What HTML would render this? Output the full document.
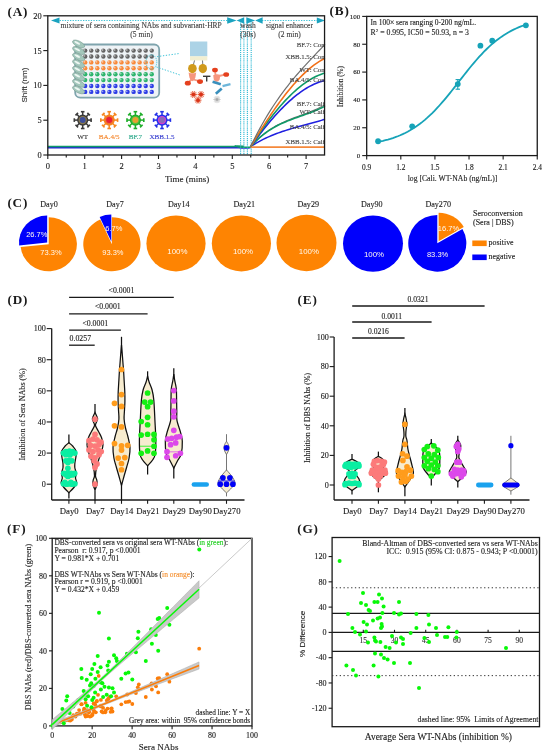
<!DOCTYPE html>
<html><head><meta charset="utf-8"><style>
html,body{margin:0;padding:0;background:#fff;}
body{width:550px;height:755px;overflow:hidden;}
svg{display:block;filter:blur(0.3px);}
</style></head><body>
<svg width="550" height="755" viewBox="0 0 550 755">
<rect width="550" height="755" fill="#fff"/>
<text x="7.6" y="16" font-size="13.2" font-family='"Liberation Serif", serif' fill="#1a1a1a" font-weight="bold" letter-spacing="0.8">(A)</text>
<rect x="75.2" y="44.5" width="84" height="53.2" fill="#eef3f6" stroke="#7fa4ad" stroke-width="1.8" rx="5"/>
<circle cx="85.2" cy="50.6" r="2.2" fill="#646464"/>
<circle cx="84.4" cy="50" r="0.9" fill="#ffffff" opacity="0.5"/>
<circle cx="91.25" cy="50.6" r="2.2" fill="#646464"/>
<circle cx="90.45" cy="50" r="0.9" fill="#ffffff" opacity="0.5"/>
<circle cx="97.3" cy="50.6" r="2.2" fill="#646464"/>
<circle cx="96.5" cy="50" r="0.9" fill="#ffffff" opacity="0.5"/>
<circle cx="103.35" cy="50.6" r="2.2" fill="#646464"/>
<circle cx="102.55" cy="50" r="0.9" fill="#ffffff" opacity="0.5"/>
<circle cx="109.4" cy="50.6" r="2.2" fill="#646464"/>
<circle cx="108.6" cy="50" r="0.9" fill="#ffffff" opacity="0.5"/>
<circle cx="115.45" cy="50.6" r="2.2" fill="#646464"/>
<circle cx="114.65" cy="50" r="0.9" fill="#ffffff" opacity="0.5"/>
<circle cx="121.5" cy="50.6" r="2.2" fill="#646464"/>
<circle cx="120.7" cy="50" r="0.9" fill="#ffffff" opacity="0.5"/>
<circle cx="127.55" cy="50.6" r="2.2" fill="#646464"/>
<circle cx="126.75" cy="50" r="0.9" fill="#ffffff" opacity="0.5"/>
<circle cx="133.6" cy="50.6" r="2.2" fill="#646464"/>
<circle cx="132.8" cy="50" r="0.9" fill="#ffffff" opacity="0.5"/>
<circle cx="139.65" cy="50.6" r="2.2" fill="#646464"/>
<circle cx="138.85" cy="50" r="0.9" fill="#ffffff" opacity="0.5"/>
<circle cx="145.7" cy="50.6" r="2.2" fill="#646464"/>
<circle cx="144.9" cy="50" r="0.9" fill="#ffffff" opacity="0.5"/>
<circle cx="151.75" cy="50.6" r="2.2" fill="#646464"/>
<circle cx="150.95" cy="50" r="0.9" fill="#ffffff" opacity="0.5"/>
<circle cx="85.2" cy="56.5" r="2.2" fill="#646464"/>
<circle cx="84.4" cy="55.9" r="0.9" fill="#ffffff" opacity="0.5"/>
<circle cx="91.25" cy="56.5" r="2.2" fill="#646464"/>
<circle cx="90.45" cy="55.9" r="0.9" fill="#ffffff" opacity="0.5"/>
<circle cx="97.3" cy="56.5" r="2.2" fill="#646464"/>
<circle cx="96.5" cy="55.9" r="0.9" fill="#ffffff" opacity="0.5"/>
<circle cx="103.35" cy="56.5" r="2.2" fill="#646464"/>
<circle cx="102.55" cy="55.9" r="0.9" fill="#ffffff" opacity="0.5"/>
<circle cx="109.4" cy="56.5" r="2.2" fill="#646464"/>
<circle cx="108.6" cy="55.9" r="0.9" fill="#ffffff" opacity="0.5"/>
<circle cx="115.45" cy="56.5" r="2.2" fill="#646464"/>
<circle cx="114.65" cy="55.9" r="0.9" fill="#ffffff" opacity="0.5"/>
<circle cx="121.5" cy="56.5" r="2.2" fill="#646464"/>
<circle cx="120.7" cy="55.9" r="0.9" fill="#ffffff" opacity="0.5"/>
<circle cx="127.55" cy="56.5" r="2.2" fill="#646464"/>
<circle cx="126.75" cy="55.9" r="0.9" fill="#ffffff" opacity="0.5"/>
<circle cx="133.6" cy="56.5" r="2.2" fill="#646464"/>
<circle cx="132.8" cy="55.9" r="0.9" fill="#ffffff" opacity="0.5"/>
<circle cx="139.65" cy="56.5" r="2.2" fill="#646464"/>
<circle cx="138.85" cy="55.9" r="0.9" fill="#ffffff" opacity="0.5"/>
<circle cx="145.7" cy="56.5" r="2.2" fill="#646464"/>
<circle cx="144.9" cy="55.9" r="0.9" fill="#ffffff" opacity="0.5"/>
<circle cx="151.75" cy="56.5" r="2.2" fill="#646464"/>
<circle cx="150.95" cy="55.9" r="0.9" fill="#ffffff" opacity="0.5"/>
<circle cx="85.2" cy="62.4" r="2.2" fill="#f8893a"/>
<circle cx="84.4" cy="61.8" r="0.9" fill="#ffffff" opacity="0.5"/>
<circle cx="91.25" cy="62.4" r="2.2" fill="#f8893a"/>
<circle cx="90.45" cy="61.8" r="0.9" fill="#ffffff" opacity="0.5"/>
<circle cx="97.3" cy="62.4" r="2.2" fill="#f8893a"/>
<circle cx="96.5" cy="61.8" r="0.9" fill="#ffffff" opacity="0.5"/>
<circle cx="103.35" cy="62.4" r="2.2" fill="#f8893a"/>
<circle cx="102.55" cy="61.8" r="0.9" fill="#ffffff" opacity="0.5"/>
<circle cx="109.4" cy="62.4" r="2.2" fill="#f8893a"/>
<circle cx="108.6" cy="61.8" r="0.9" fill="#ffffff" opacity="0.5"/>
<circle cx="115.45" cy="62.4" r="2.2" fill="#f8893a"/>
<circle cx="114.65" cy="61.8" r="0.9" fill="#ffffff" opacity="0.5"/>
<circle cx="121.5" cy="62.4" r="2.2" fill="#f8893a"/>
<circle cx="120.7" cy="61.8" r="0.9" fill="#ffffff" opacity="0.5"/>
<circle cx="127.55" cy="62.4" r="2.2" fill="#f8893a"/>
<circle cx="126.75" cy="61.8" r="0.9" fill="#ffffff" opacity="0.5"/>
<circle cx="133.6" cy="62.4" r="2.2" fill="#f8893a"/>
<circle cx="132.8" cy="61.8" r="0.9" fill="#ffffff" opacity="0.5"/>
<circle cx="139.65" cy="62.4" r="2.2" fill="#f8893a"/>
<circle cx="138.85" cy="61.8" r="0.9" fill="#ffffff" opacity="0.5"/>
<circle cx="145.7" cy="62.4" r="2.2" fill="#f8893a"/>
<circle cx="144.9" cy="61.8" r="0.9" fill="#ffffff" opacity="0.5"/>
<circle cx="151.75" cy="62.4" r="2.2" fill="#f8893a"/>
<circle cx="150.95" cy="61.8" r="0.9" fill="#ffffff" opacity="0.5"/>
<circle cx="85.2" cy="68.3" r="2.2" fill="#f8893a"/>
<circle cx="84.4" cy="67.7" r="0.9" fill="#ffffff" opacity="0.5"/>
<circle cx="91.25" cy="68.3" r="2.2" fill="#f8893a"/>
<circle cx="90.45" cy="67.7" r="0.9" fill="#ffffff" opacity="0.5"/>
<circle cx="97.3" cy="68.3" r="2.2" fill="#f8893a"/>
<circle cx="96.5" cy="67.7" r="0.9" fill="#ffffff" opacity="0.5"/>
<circle cx="103.35" cy="68.3" r="2.2" fill="#f8893a"/>
<circle cx="102.55" cy="67.7" r="0.9" fill="#ffffff" opacity="0.5"/>
<circle cx="109.4" cy="68.3" r="2.2" fill="#f8893a"/>
<circle cx="108.6" cy="67.7" r="0.9" fill="#ffffff" opacity="0.5"/>
<circle cx="115.45" cy="68.3" r="2.2" fill="#f8893a"/>
<circle cx="114.65" cy="67.7" r="0.9" fill="#ffffff" opacity="0.5"/>
<circle cx="121.5" cy="68.3" r="2.2" fill="#f8893a"/>
<circle cx="120.7" cy="67.7" r="0.9" fill="#ffffff" opacity="0.5"/>
<circle cx="127.55" cy="68.3" r="2.2" fill="#f8893a"/>
<circle cx="126.75" cy="67.7" r="0.9" fill="#ffffff" opacity="0.5"/>
<circle cx="133.6" cy="68.3" r="2.2" fill="#f8893a"/>
<circle cx="132.8" cy="67.7" r="0.9" fill="#ffffff" opacity="0.5"/>
<circle cx="139.65" cy="68.3" r="2.2" fill="#f8893a"/>
<circle cx="138.85" cy="67.7" r="0.9" fill="#ffffff" opacity="0.5"/>
<circle cx="145.7" cy="68.3" r="2.2" fill="#f8893a"/>
<circle cx="144.9" cy="67.7" r="0.9" fill="#ffffff" opacity="0.5"/>
<circle cx="151.75" cy="68.3" r="2.2" fill="#f8893a"/>
<circle cx="150.95" cy="67.7" r="0.9" fill="#ffffff" opacity="0.5"/>
<circle cx="85.2" cy="74.2" r="2.2" fill="#2cb46c"/>
<circle cx="84.4" cy="73.6" r="0.9" fill="#ffffff" opacity="0.5"/>
<circle cx="91.25" cy="74.2" r="2.2" fill="#2cb46c"/>
<circle cx="90.45" cy="73.6" r="0.9" fill="#ffffff" opacity="0.5"/>
<circle cx="97.3" cy="74.2" r="2.2" fill="#2cb46c"/>
<circle cx="96.5" cy="73.6" r="0.9" fill="#ffffff" opacity="0.5"/>
<circle cx="103.35" cy="74.2" r="2.2" fill="#2cb46c"/>
<circle cx="102.55" cy="73.6" r="0.9" fill="#ffffff" opacity="0.5"/>
<circle cx="109.4" cy="74.2" r="2.2" fill="#2cb46c"/>
<circle cx="108.6" cy="73.6" r="0.9" fill="#ffffff" opacity="0.5"/>
<circle cx="115.45" cy="74.2" r="2.2" fill="#2cb46c"/>
<circle cx="114.65" cy="73.6" r="0.9" fill="#ffffff" opacity="0.5"/>
<circle cx="121.5" cy="74.2" r="2.2" fill="#2cb46c"/>
<circle cx="120.7" cy="73.6" r="0.9" fill="#ffffff" opacity="0.5"/>
<circle cx="127.55" cy="74.2" r="2.2" fill="#2cb46c"/>
<circle cx="126.75" cy="73.6" r="0.9" fill="#ffffff" opacity="0.5"/>
<circle cx="133.6" cy="74.2" r="2.2" fill="#2cb46c"/>
<circle cx="132.8" cy="73.6" r="0.9" fill="#ffffff" opacity="0.5"/>
<circle cx="139.65" cy="74.2" r="2.2" fill="#2cb46c"/>
<circle cx="138.85" cy="73.6" r="0.9" fill="#ffffff" opacity="0.5"/>
<circle cx="145.7" cy="74.2" r="2.2" fill="#2cb46c"/>
<circle cx="144.9" cy="73.6" r="0.9" fill="#ffffff" opacity="0.5"/>
<circle cx="151.75" cy="74.2" r="2.2" fill="#2cb46c"/>
<circle cx="150.95" cy="73.6" r="0.9" fill="#ffffff" opacity="0.5"/>
<circle cx="85.2" cy="80.1" r="2.2" fill="#2cb46c"/>
<circle cx="84.4" cy="79.5" r="0.9" fill="#ffffff" opacity="0.5"/>
<circle cx="91.25" cy="80.1" r="2.2" fill="#2cb46c"/>
<circle cx="90.45" cy="79.5" r="0.9" fill="#ffffff" opacity="0.5"/>
<circle cx="97.3" cy="80.1" r="2.2" fill="#2cb46c"/>
<circle cx="96.5" cy="79.5" r="0.9" fill="#ffffff" opacity="0.5"/>
<circle cx="103.35" cy="80.1" r="2.2" fill="#2cb46c"/>
<circle cx="102.55" cy="79.5" r="0.9" fill="#ffffff" opacity="0.5"/>
<circle cx="109.4" cy="80.1" r="2.2" fill="#2cb46c"/>
<circle cx="108.6" cy="79.5" r="0.9" fill="#ffffff" opacity="0.5"/>
<circle cx="115.45" cy="80.1" r="2.2" fill="#2cb46c"/>
<circle cx="114.65" cy="79.5" r="0.9" fill="#ffffff" opacity="0.5"/>
<circle cx="121.5" cy="80.1" r="2.2" fill="#2cb46c"/>
<circle cx="120.7" cy="79.5" r="0.9" fill="#ffffff" opacity="0.5"/>
<circle cx="127.55" cy="80.1" r="2.2" fill="#2cb46c"/>
<circle cx="126.75" cy="79.5" r="0.9" fill="#ffffff" opacity="0.5"/>
<circle cx="133.6" cy="80.1" r="2.2" fill="#2cb46c"/>
<circle cx="132.8" cy="79.5" r="0.9" fill="#ffffff" opacity="0.5"/>
<circle cx="139.65" cy="80.1" r="2.2" fill="#2cb46c"/>
<circle cx="138.85" cy="79.5" r="0.9" fill="#ffffff" opacity="0.5"/>
<circle cx="145.7" cy="80.1" r="2.2" fill="#2cb46c"/>
<circle cx="144.9" cy="79.5" r="0.9" fill="#ffffff" opacity="0.5"/>
<circle cx="151.75" cy="80.1" r="2.2" fill="#2cb46c"/>
<circle cx="150.95" cy="79.5" r="0.9" fill="#ffffff" opacity="0.5"/>
<circle cx="85.2" cy="86" r="2.2" fill="#2c3ce6"/>
<circle cx="84.4" cy="85.4" r="0.9" fill="#ffffff" opacity="0.5"/>
<circle cx="91.25" cy="86" r="2.2" fill="#2c3ce6"/>
<circle cx="90.45" cy="85.4" r="0.9" fill="#ffffff" opacity="0.5"/>
<circle cx="97.3" cy="86" r="2.2" fill="#2c3ce6"/>
<circle cx="96.5" cy="85.4" r="0.9" fill="#ffffff" opacity="0.5"/>
<circle cx="103.35" cy="86" r="2.2" fill="#2c3ce6"/>
<circle cx="102.55" cy="85.4" r="0.9" fill="#ffffff" opacity="0.5"/>
<circle cx="109.4" cy="86" r="2.2" fill="#2c3ce6"/>
<circle cx="108.6" cy="85.4" r="0.9" fill="#ffffff" opacity="0.5"/>
<circle cx="115.45" cy="86" r="2.2" fill="#2c3ce6"/>
<circle cx="114.65" cy="85.4" r="0.9" fill="#ffffff" opacity="0.5"/>
<circle cx="121.5" cy="86" r="2.2" fill="#2c3ce6"/>
<circle cx="120.7" cy="85.4" r="0.9" fill="#ffffff" opacity="0.5"/>
<circle cx="127.55" cy="86" r="2.2" fill="#2c3ce6"/>
<circle cx="126.75" cy="85.4" r="0.9" fill="#ffffff" opacity="0.5"/>
<circle cx="133.6" cy="86" r="2.2" fill="#2c3ce6"/>
<circle cx="132.8" cy="85.4" r="0.9" fill="#ffffff" opacity="0.5"/>
<circle cx="139.65" cy="86" r="2.2" fill="#2c3ce6"/>
<circle cx="138.85" cy="85.4" r="0.9" fill="#ffffff" opacity="0.5"/>
<circle cx="145.7" cy="86" r="2.2" fill="#2c3ce6"/>
<circle cx="144.9" cy="85.4" r="0.9" fill="#ffffff" opacity="0.5"/>
<circle cx="151.75" cy="86" r="2.2" fill="#2c3ce6"/>
<circle cx="150.95" cy="85.4" r="0.9" fill="#ffffff" opacity="0.5"/>
<circle cx="85.2" cy="91.9" r="2.2" fill="#2c3ce6"/>
<circle cx="84.4" cy="91.3" r="0.9" fill="#ffffff" opacity="0.5"/>
<circle cx="91.25" cy="91.9" r="2.2" fill="#2c3ce6"/>
<circle cx="90.45" cy="91.3" r="0.9" fill="#ffffff" opacity="0.5"/>
<circle cx="97.3" cy="91.9" r="2.2" fill="#2c3ce6"/>
<circle cx="96.5" cy="91.3" r="0.9" fill="#ffffff" opacity="0.5"/>
<circle cx="103.35" cy="91.9" r="2.2" fill="#2c3ce6"/>
<circle cx="102.55" cy="91.3" r="0.9" fill="#ffffff" opacity="0.5"/>
<circle cx="109.4" cy="91.9" r="2.2" fill="#2c3ce6"/>
<circle cx="108.6" cy="91.3" r="0.9" fill="#ffffff" opacity="0.5"/>
<circle cx="115.45" cy="91.9" r="2.2" fill="#2c3ce6"/>
<circle cx="114.65" cy="91.3" r="0.9" fill="#ffffff" opacity="0.5"/>
<circle cx="121.5" cy="91.9" r="2.2" fill="#2c3ce6"/>
<circle cx="120.7" cy="91.3" r="0.9" fill="#ffffff" opacity="0.5"/>
<circle cx="127.55" cy="91.9" r="2.2" fill="#2c3ce6"/>
<circle cx="126.75" cy="91.3" r="0.9" fill="#ffffff" opacity="0.5"/>
<circle cx="133.6" cy="91.9" r="2.2" fill="#2c3ce6"/>
<circle cx="132.8" cy="91.3" r="0.9" fill="#ffffff" opacity="0.5"/>
<circle cx="139.65" cy="91.9" r="2.2" fill="#2c3ce6"/>
<circle cx="138.85" cy="91.3" r="0.9" fill="#ffffff" opacity="0.5"/>
<circle cx="145.7" cy="91.9" r="2.2" fill="#2c3ce6"/>
<circle cx="144.9" cy="91.3" r="0.9" fill="#ffffff" opacity="0.5"/>
<circle cx="151.75" cy="91.9" r="2.2" fill="#2c3ce6"/>
<circle cx="150.95" cy="91.3" r="0.9" fill="#ffffff" opacity="0.5"/>
<ellipse cx="78.6" cy="44" rx="6.6" ry="2.9" fill="#a3c7bb" stroke="#7c9f94" stroke-width="0.6" transform="rotate(27 78.6 44)"/>
<ellipse cx="77.2" cy="42.9" rx="3.2" ry="1.0" fill="#eef7f3" transform="rotate(27 77.2 42.9)"/>
<ellipse cx="78.6" cy="50.55" rx="6.6" ry="2.9" fill="#a3c7bb" stroke="#7c9f94" stroke-width="0.6" transform="rotate(27 78.6 50.55)"/>
<ellipse cx="77.2" cy="49.45" rx="3.2" ry="1.0" fill="#eef7f3" transform="rotate(27 77.2 49.45)"/>
<ellipse cx="78.6" cy="57.1" rx="6.6" ry="2.9" fill="#a3c7bb" stroke="#7c9f94" stroke-width="0.6" transform="rotate(27 78.6 57.1)"/>
<ellipse cx="77.2" cy="56" rx="3.2" ry="1.0" fill="#eef7f3" transform="rotate(27 77.2 56)"/>
<ellipse cx="78.6" cy="63.65" rx="6.6" ry="2.9" fill="#a3c7bb" stroke="#7c9f94" stroke-width="0.6" transform="rotate(27 78.6 63.65)"/>
<ellipse cx="77.2" cy="62.55" rx="3.2" ry="1.0" fill="#eef7f3" transform="rotate(27 77.2 62.55)"/>
<ellipse cx="78.6" cy="70.2" rx="6.6" ry="2.9" fill="#a3c7bb" stroke="#7c9f94" stroke-width="0.6" transform="rotate(27 78.6 70.2)"/>
<ellipse cx="77.2" cy="69.1" rx="3.2" ry="1.0" fill="#eef7f3" transform="rotate(27 77.2 69.1)"/>
<ellipse cx="78.6" cy="76.75" rx="6.6" ry="2.9" fill="#a3c7bb" stroke="#7c9f94" stroke-width="0.6" transform="rotate(27 78.6 76.75)"/>
<ellipse cx="77.2" cy="75.65" rx="3.2" ry="1.0" fill="#eef7f3" transform="rotate(27 77.2 75.65)"/>
<ellipse cx="78.6" cy="83.3" rx="6.6" ry="2.9" fill="#a3c7bb" stroke="#7c9f94" stroke-width="0.6" transform="rotate(27 78.6 83.3)"/>
<ellipse cx="77.2" cy="82.2" rx="3.2" ry="1.0" fill="#eef7f3" transform="rotate(27 77.2 82.2)"/>
<ellipse cx="78.6" cy="89.85" rx="6.6" ry="2.9" fill="#a3c7bb" stroke="#7c9f94" stroke-width="0.6" transform="rotate(27 78.6 89.85)"/>
<ellipse cx="77.2" cy="88.75" rx="3.2" ry="1.0" fill="#eef7f3" transform="rotate(27 77.2 88.75)"/>
<ellipse cx="151.4" cy="62" rx="5.4" ry="7.2" fill="none" stroke="#3cc3d8" stroke-width="0.9" stroke-dasharray="1.2 1"/>
<line x1="157.2" y1="56.6" x2="180" y2="53.4" stroke="#3cc3d8" stroke-width="1" stroke-dasharray="1.3 1.6"/>
<line x1="156.5" y1="67" x2="180" y2="75" stroke="#3cc3d8" stroke-width="1" stroke-dasharray="1.3 1.6"/>
<rect x="190" y="41.5" width="17.3" height="15" fill="#acd3e6"/>
<rect x="190" y="56.3" width="17.3" height="4.2" fill="#f2efd2"/>
<line x1="194.5" y1="60.5" x2="193.3" y2="65" stroke="#555" stroke-width="0.8"/>
<line x1="202.5" y1="60.5" x2="202.8" y2="65" stroke="#555" stroke-width="0.8"/>
<ellipse cx="192.4" cy="68.6" rx="4.3" ry="4.6" fill="#d09a1c"/>
<ellipse cx="202.8" cy="68.6" rx="4.2" ry="4.6" fill="#d09a1c"/>
<path d="M188.6 72.4 Q192.4 74.2 196.2 72.4 L195.4 77.6 Q194.6 80.6 192.4 81.2 Q190.2 80.6 189.4 77.6Z" fill="#f6977f"/>
<path d="M191.6 79.5 L188.4 82.4 M193.4 79.5 L199.2 81.2" fill="none" stroke="#f6977f" stroke-width="1.8"/>
<ellipse cx="187.8" cy="83.2" rx="3.0" ry="2.4" fill="#e5401e"/>
<ellipse cx="200.0" cy="81.6" rx="3.0" ry="2.4" fill="#e5401e"/>
<line x1="203" y1="76.3" x2="210.4" y2="76.3" stroke="#3a3a3a" stroke-width="1.4"/>
<line x1="206.7" y1="76.3" x2="206.7" y2="81.6" stroke="#3a3a3a" stroke-width="1.4"/>
<path d="M213.2 75.2 Q216.8 73.6 220.4 75.0 L219.6 79.6 Q218.6 81.8 216.6 81.8 Q214.4 81.6 213.8 79.4Z" fill="#f6977f"/>
<path d="M215.6 75.4 L215.0 71.2 M219.0 76.0 L225.0 74.6" fill="none" stroke="#f6977f" stroke-width="1.8"/>
<ellipse cx="215.0" cy="70.0" rx="2.9" ry="2.3" fill="#e5401e"/>
<ellipse cx="226.2" cy="74.5" rx="2.9" ry="2.3" fill="#e5401e"/>
<rect x="212.4" y="81.8" width="8.6" height="2.6" fill="#3a8fbc" transform="rotate(17 216.7 83.1)"/>
<rect x="222.4" y="84.0" width="8.2" height="2.4" fill="#6db6da" transform="rotate(-14 226.5 85.2)"/>
<rect x="214.8" y="89.8" width="8.0" height="2.6" fill="#3a8fbc" transform="rotate(-42 218.8 91.1)"/>
<circle cx="193.5" cy="94.5" r="3.6" fill="#f7c0b0" opacity="0.5"/>
<line x1="193.5" y1="94.5" x2="196.9" y2="94.5" stroke="#e0401e" stroke-width="0.8"/>
<line x1="193.5" y1="94.5" x2="196.25" y2="96.5" stroke="#e0401e" stroke-width="0.8"/>
<line x1="193.5" y1="94.5" x2="194.55" y2="97.73" stroke="#e0401e" stroke-width="0.8"/>
<line x1="193.5" y1="94.5" x2="192.45" y2="97.73" stroke="#e0401e" stroke-width="0.8"/>
<line x1="193.5" y1="94.5" x2="190.75" y2="96.5" stroke="#e0401e" stroke-width="0.8"/>
<line x1="193.5" y1="94.5" x2="190.1" y2="94.5" stroke="#e0401e" stroke-width="0.8"/>
<line x1="193.5" y1="94.5" x2="190.75" y2="92.5" stroke="#e0401e" stroke-width="0.8"/>
<line x1="193.5" y1="94.5" x2="192.45" y2="91.27" stroke="#e0401e" stroke-width="0.8"/>
<line x1="193.5" y1="94.5" x2="194.55" y2="91.27" stroke="#e0401e" stroke-width="0.8"/>
<line x1="193.5" y1="94.5" x2="196.25" y2="92.5" stroke="#e0401e" stroke-width="0.8"/>
<circle cx="193.5" cy="94.5" r="1.8" fill="#d83218"/>
<circle cx="201" cy="94.5" r="3.6" fill="#f7c0b0" opacity="0.5"/>
<line x1="201" y1="94.5" x2="204.4" y2="94.5" stroke="#e0401e" stroke-width="0.8"/>
<line x1="201" y1="94.5" x2="203.75" y2="96.5" stroke="#e0401e" stroke-width="0.8"/>
<line x1="201" y1="94.5" x2="202.05" y2="97.73" stroke="#e0401e" stroke-width="0.8"/>
<line x1="201" y1="94.5" x2="199.95" y2="97.73" stroke="#e0401e" stroke-width="0.8"/>
<line x1="201" y1="94.5" x2="198.25" y2="96.5" stroke="#e0401e" stroke-width="0.8"/>
<line x1="201" y1="94.5" x2="197.6" y2="94.5" stroke="#e0401e" stroke-width="0.8"/>
<line x1="201" y1="94.5" x2="198.25" y2="92.5" stroke="#e0401e" stroke-width="0.8"/>
<line x1="201" y1="94.5" x2="199.95" y2="91.27" stroke="#e0401e" stroke-width="0.8"/>
<line x1="201" y1="94.5" x2="202.05" y2="91.27" stroke="#e0401e" stroke-width="0.8"/>
<line x1="201" y1="94.5" x2="203.75" y2="92.5" stroke="#e0401e" stroke-width="0.8"/>
<circle cx="201" cy="94.5" r="1.8" fill="#d83218"/>
<circle cx="198" cy="100.2" r="3.6" fill="#f7c0b0" opacity="0.5"/>
<line x1="198" y1="100.2" x2="201.4" y2="100.2" stroke="#e0401e" stroke-width="0.8"/>
<line x1="198" y1="100.2" x2="200.75" y2="102.2" stroke="#e0401e" stroke-width="0.8"/>
<line x1="198" y1="100.2" x2="199.05" y2="103.43" stroke="#e0401e" stroke-width="0.8"/>
<line x1="198" y1="100.2" x2="196.95" y2="103.43" stroke="#e0401e" stroke-width="0.8"/>
<line x1="198" y1="100.2" x2="195.25" y2="102.2" stroke="#e0401e" stroke-width="0.8"/>
<line x1="198" y1="100.2" x2="194.6" y2="100.2" stroke="#e0401e" stroke-width="0.8"/>
<line x1="198" y1="100.2" x2="195.25" y2="98.2" stroke="#e0401e" stroke-width="0.8"/>
<line x1="198" y1="100.2" x2="196.95" y2="96.97" stroke="#e0401e" stroke-width="0.8"/>
<line x1="198" y1="100.2" x2="199.05" y2="96.97" stroke="#e0401e" stroke-width="0.8"/>
<line x1="198" y1="100.2" x2="200.75" y2="98.2" stroke="#e0401e" stroke-width="0.8"/>
<circle cx="198" cy="100.2" r="1.8" fill="#d83218"/>
<line x1="217" y1="99.5" x2="220.6" y2="99.5" stroke="#b4b4b4" stroke-width="0.7"/>
<line x1="217" y1="99.5" x2="220.12" y2="101.3" stroke="#b4b4b4" stroke-width="0.7"/>
<line x1="217" y1="99.5" x2="218.8" y2="102.62" stroke="#b4b4b4" stroke-width="0.7"/>
<line x1="217" y1="99.5" x2="217" y2="103.1" stroke="#b4b4b4" stroke-width="0.7"/>
<line x1="217" y1="99.5" x2="215.2" y2="102.62" stroke="#b4b4b4" stroke-width="0.7"/>
<line x1="217" y1="99.5" x2="213.88" y2="101.3" stroke="#b4b4b4" stroke-width="0.7"/>
<line x1="217" y1="99.5" x2="213.4" y2="99.5" stroke="#b4b4b4" stroke-width="0.7"/>
<line x1="217" y1="99.5" x2="213.88" y2="97.7" stroke="#b4b4b4" stroke-width="0.7"/>
<line x1="217" y1="99.5" x2="215.2" y2="96.38" stroke="#b4b4b4" stroke-width="0.7"/>
<line x1="217" y1="99.5" x2="217" y2="95.9" stroke="#b4b4b4" stroke-width="0.7"/>
<line x1="217" y1="99.5" x2="218.8" y2="96.38" stroke="#b4b4b4" stroke-width="0.7"/>
<line x1="217" y1="99.5" x2="220.12" y2="97.7" stroke="#b4b4b4" stroke-width="0.7"/>
<circle cx="217" cy="99.5" r="1.2" fill="#a8a8a8"/>
<line x1="87.2" y1="120.1" x2="91.1" y2="120.1" stroke="#3a3a3a" stroke-width="1.5"/>
<line x1="91.1" y1="118.3" x2="91.1" y2="121.9" stroke="#3a3a3a" stroke-width="1.6"/>
<line x1="85.88" y1="123.28" x2="88.64" y2="126.04" stroke="#3a3a3a" stroke-width="1.5"/>
<line x1="89.91" y1="124.77" x2="87.37" y2="127.31" stroke="#3a3a3a" stroke-width="1.6"/>
<line x1="82.7" y1="124.6" x2="82.7" y2="128.5" stroke="#3a3a3a" stroke-width="1.5"/>
<line x1="84.5" y1="128.5" x2="80.9" y2="128.5" stroke="#3a3a3a" stroke-width="1.6"/>
<line x1="79.52" y1="123.28" x2="76.76" y2="126.04" stroke="#3a3a3a" stroke-width="1.5"/>
<line x1="78.03" y1="127.31" x2="75.49" y2="124.77" stroke="#3a3a3a" stroke-width="1.6"/>
<line x1="78.2" y1="120.1" x2="74.3" y2="120.1" stroke="#3a3a3a" stroke-width="1.5"/>
<line x1="74.3" y1="121.9" x2="74.3" y2="118.3" stroke="#3a3a3a" stroke-width="1.6"/>
<line x1="79.52" y1="116.92" x2="76.76" y2="114.16" stroke="#3a3a3a" stroke-width="1.5"/>
<line x1="75.49" y1="115.43" x2="78.03" y2="112.89" stroke="#3a3a3a" stroke-width="1.6"/>
<line x1="82.7" y1="115.6" x2="82.7" y2="111.7" stroke="#3a3a3a" stroke-width="1.5"/>
<line x1="80.9" y1="111.7" x2="84.5" y2="111.7" stroke="#3a3a3a" stroke-width="1.6"/>
<line x1="85.88" y1="116.92" x2="88.64" y2="114.16" stroke="#3a3a3a" stroke-width="1.5"/>
<line x1="87.37" y1="112.89" x2="89.91" y2="115.43" stroke="#3a3a3a" stroke-width="1.6"/>
<circle cx="82.7" cy="120.1" r="5.6" fill="#3a3a3a"/>
<circle cx="82.7" cy="120.1" r="4.2" fill="#8a7a50"/>
<circle cx="82.7" cy="120.1" r="3" fill="#3e4f9a"/>
<text x="82.7" y="139" font-size="7.1" font-family='"Liberation Serif", serif' fill="#333" text-anchor="middle" stroke="#333" stroke-width="0.12">WT</text>
<line x1="113.7" y1="120.1" x2="117.6" y2="120.1" stroke="#f5861f" stroke-width="1.5"/>
<line x1="117.6" y1="118.3" x2="117.6" y2="121.9" stroke="#f5861f" stroke-width="1.6"/>
<line x1="112.38" y1="123.28" x2="115.14" y2="126.04" stroke="#f5861f" stroke-width="1.5"/>
<line x1="116.41" y1="124.77" x2="113.87" y2="127.31" stroke="#f5861f" stroke-width="1.6"/>
<line x1="109.2" y1="124.6" x2="109.2" y2="128.5" stroke="#f5861f" stroke-width="1.5"/>
<line x1="111" y1="128.5" x2="107.4" y2="128.5" stroke="#f5861f" stroke-width="1.6"/>
<line x1="106.02" y1="123.28" x2="103.26" y2="126.04" stroke="#f5861f" stroke-width="1.5"/>
<line x1="104.53" y1="127.31" x2="101.99" y2="124.77" stroke="#f5861f" stroke-width="1.6"/>
<line x1="104.7" y1="120.1" x2="100.8" y2="120.1" stroke="#f5861f" stroke-width="1.5"/>
<line x1="100.8" y1="121.9" x2="100.8" y2="118.3" stroke="#f5861f" stroke-width="1.6"/>
<line x1="106.02" y1="116.92" x2="103.26" y2="114.16" stroke="#f5861f" stroke-width="1.5"/>
<line x1="101.99" y1="115.43" x2="104.53" y2="112.89" stroke="#f5861f" stroke-width="1.6"/>
<line x1="109.2" y1="115.6" x2="109.2" y2="111.7" stroke="#f5861f" stroke-width="1.5"/>
<line x1="107.4" y1="111.7" x2="111" y2="111.7" stroke="#f5861f" stroke-width="1.6"/>
<line x1="112.38" y1="116.92" x2="115.14" y2="114.16" stroke="#f5861f" stroke-width="1.5"/>
<line x1="113.87" y1="112.89" x2="116.41" y2="115.43" stroke="#f5861f" stroke-width="1.6"/>
<circle cx="109.2" cy="120.1" r="5.6" fill="#f5861f"/>
<circle cx="109.2" cy="120.1" r="4.2" fill="#f07030"/>
<circle cx="109.2" cy="120.1" r="3" fill="#e8203a"/>
<text x="109.2" y="139" font-size="7.1" font-family='"Liberation Serif", serif' fill="#f5862b" text-anchor="middle" stroke="#f5862b" stroke-width="0.12">BA.4/5</text>
<line x1="139.9" y1="120.1" x2="143.8" y2="120.1" stroke="#1fae2a" stroke-width="1.5"/>
<line x1="143.8" y1="118.3" x2="143.8" y2="121.9" stroke="#1fae2a" stroke-width="1.6"/>
<line x1="138.58" y1="123.28" x2="141.34" y2="126.04" stroke="#1fae2a" stroke-width="1.5"/>
<line x1="142.61" y1="124.77" x2="140.07" y2="127.31" stroke="#1fae2a" stroke-width="1.6"/>
<line x1="135.4" y1="124.6" x2="135.4" y2="128.5" stroke="#1fae2a" stroke-width="1.5"/>
<line x1="137.2" y1="128.5" x2="133.6" y2="128.5" stroke="#1fae2a" stroke-width="1.6"/>
<line x1="132.22" y1="123.28" x2="129.46" y2="126.04" stroke="#1fae2a" stroke-width="1.5"/>
<line x1="130.73" y1="127.31" x2="128.19" y2="124.77" stroke="#1fae2a" stroke-width="1.6"/>
<line x1="130.9" y1="120.1" x2="127" y2="120.1" stroke="#1fae2a" stroke-width="1.5"/>
<line x1="127" y1="121.9" x2="127" y2="118.3" stroke="#1fae2a" stroke-width="1.6"/>
<line x1="132.22" y1="116.92" x2="129.46" y2="114.16" stroke="#1fae2a" stroke-width="1.5"/>
<line x1="128.19" y1="115.43" x2="130.73" y2="112.89" stroke="#1fae2a" stroke-width="1.6"/>
<line x1="135.4" y1="115.6" x2="135.4" y2="111.7" stroke="#1fae2a" stroke-width="1.5"/>
<line x1="133.6" y1="111.7" x2="137.2" y2="111.7" stroke="#1fae2a" stroke-width="1.6"/>
<line x1="138.58" y1="116.92" x2="141.34" y2="114.16" stroke="#1fae2a" stroke-width="1.5"/>
<line x1="140.07" y1="112.89" x2="142.61" y2="115.43" stroke="#1fae2a" stroke-width="1.6"/>
<circle cx="135.4" cy="120.1" r="5.6" fill="#1fae2a"/>
<circle cx="135.4" cy="120.1" r="4.2" fill="#55c040"/>
<circle cx="135.4" cy="120.1" r="3" fill="#e8a030"/>
<text x="135.4" y="139" font-size="7.1" font-family='"Liberation Serif", serif' fill="#2aa88a" text-anchor="middle" stroke="#2aa88a" stroke-width="0.12">BF.7</text>
<line x1="166.5" y1="120.1" x2="170.4" y2="120.1" stroke="#2230e8" stroke-width="1.5"/>
<line x1="170.4" y1="118.3" x2="170.4" y2="121.9" stroke="#2230e8" stroke-width="1.6"/>
<line x1="165.18" y1="123.28" x2="167.94" y2="126.04" stroke="#2230e8" stroke-width="1.5"/>
<line x1="169.21" y1="124.77" x2="166.67" y2="127.31" stroke="#2230e8" stroke-width="1.6"/>
<line x1="162" y1="124.6" x2="162" y2="128.5" stroke="#2230e8" stroke-width="1.5"/>
<line x1="163.8" y1="128.5" x2="160.2" y2="128.5" stroke="#2230e8" stroke-width="1.6"/>
<line x1="158.82" y1="123.28" x2="156.06" y2="126.04" stroke="#2230e8" stroke-width="1.5"/>
<line x1="157.33" y1="127.31" x2="154.79" y2="124.77" stroke="#2230e8" stroke-width="1.6"/>
<line x1="157.5" y1="120.1" x2="153.6" y2="120.1" stroke="#2230e8" stroke-width="1.5"/>
<line x1="153.6" y1="121.9" x2="153.6" y2="118.3" stroke="#2230e8" stroke-width="1.6"/>
<line x1="158.82" y1="116.92" x2="156.06" y2="114.16" stroke="#2230e8" stroke-width="1.5"/>
<line x1="154.79" y1="115.43" x2="157.33" y2="112.89" stroke="#2230e8" stroke-width="1.6"/>
<line x1="162" y1="115.6" x2="162" y2="111.7" stroke="#2230e8" stroke-width="1.5"/>
<line x1="160.2" y1="111.7" x2="163.8" y2="111.7" stroke="#2230e8" stroke-width="1.6"/>
<line x1="165.18" y1="116.92" x2="167.94" y2="114.16" stroke="#2230e8" stroke-width="1.5"/>
<line x1="166.67" y1="112.89" x2="169.21" y2="115.43" stroke="#2230e8" stroke-width="1.6"/>
<circle cx="162" cy="120.1" r="5.6" fill="#2230e8"/>
<circle cx="162" cy="120.1" r="4.2" fill="#d040d0"/>
<circle cx="162" cy="120.1" r="3" fill="#8c6ab8"/>
<text x="162" y="139" font-size="7.1" font-family='"Liberation Serif", serif' fill="#3a40d0" text-anchor="middle" stroke="#3a40d0" stroke-width="0.12">XBB.1.5</text>
<path d="M47.8 147.7C79 147.7 202.97 147.65 235 147.7C267.03 147.75 237.83 147.95 240 148C242.17 148.05 246.17 148.15 248 148C249.83 147.85 250.5 147.25 251 147.1" fill="none" stroke="#2525d8" stroke-width="1.4"/>
<path d="M47.8 146.5C77.83 146.5 196.8 146.58 228 146.5C259.2 146.42 233.17 145.92 235 146C236.83 146.08 236.83 146.8 239 147C241.17 147.2 246 147.22 248 147.2C250 147.18 250.5 146.95 251 146.9" fill="none" stroke="#0e9a68" stroke-width="1.4"/>
<line x1="240.6" y1="22.5" x2="240.6" y2="155" stroke="#38bcd6" stroke-width="1.15" stroke-dasharray="1.2 0.9"/>
<line x1="243.9" y1="22.5" x2="243.9" y2="155" stroke="#38bcd6" stroke-width="1.15" stroke-dasharray="1.2 0.9"/>
<line x1="247.4" y1="22.5" x2="247.4" y2="155" stroke="#38bcd6" stroke-width="1.15" stroke-dasharray="1.2 0.9"/>
<line x1="251.2" y1="22.5" x2="251.2" y2="155" stroke="#38bcd6" stroke-width="1.15" stroke-dasharray="1.2 0.9"/>
<path d="M250.6 146.6 L252.46 145.41 L254.32 144.26 L256.18 143.16 L258.04 142.1 L259.9 141.08 L261.76 140.11 L263.62 139.17 L265.48 138.27 L267.34 137.4 L269.2 136.57 L271.06 135.77 L272.92 135 L274.78 134.26 L276.64 133.55 L278.5 132.86 L280.36 132.2 L282.22 131.56 L284.08 130.94 L285.94 130.34 L287.8 129.75 L289.66 129.18 L291.52 128.63 L293.38 128.09 L295.24 127.56 L297.1 127.04 L298.96 126.52 L300.82 126.02 L302.68 125.52 L304.54 125.02 L306.4 124.52 L308.26 124.02 L310.12 123.52 L311.98 123.01 L313.84 122.5 L315.7 121.99 L317.56 121.46 L319.42 120.92 L321.28 120.38 L323.14 119.82 L325 119.24" fill="none" stroke="#2020e0" stroke-width="1.5" stroke-linejoin="round"/>
<path d="M250.6 146.6 L252.46 144.52 L254.32 142.55 L256.18 140.68 L258.04 138.91 L259.9 137.23 L261.76 135.63 L263.62 134.12 L265.48 132.69 L267.34 131.34 L269.2 130.06 L271.06 128.84 L272.92 127.69 L274.78 126.6 L276.64 125.57 L278.5 124.58 L280.36 123.65 L282.22 122.75 L284.08 121.9 L285.94 121.08 L287.8 120.29 L289.66 119.53 L291.52 118.8 L293.38 118.08 L295.24 117.38 L297.1 116.68 L298.96 116 L300.82 115.32 L302.68 114.63 L304.54 113.94 L306.4 113.25 L308.26 112.53 L310.12 111.81 L311.98 111.05 L313.84 110.28 L315.7 109.47 L317.56 108.63 L319.42 107.75 L321.28 106.83 L323.14 105.87 L325 104.85" fill="none" stroke="#707070" stroke-width="1.1" stroke-linejoin="round"/>
<path d="M250.6 146.6 L252.46 144.57 L254.32 142.65 L256.18 140.82 L258.04 139.09 L259.9 137.44 L261.76 135.88 L263.62 134.41 L265.48 133.01 L267.34 131.68 L269.2 130.43 L271.06 129.24 L272.92 128.11 L274.78 127.04 L276.64 126.03 L278.5 125.07 L280.36 124.15 L282.22 123.28 L284.08 122.45 L285.94 121.65 L287.8 120.88 L289.66 120.14 L291.52 119.43 L293.38 118.73 L295.24 118.05 L297.1 117.38 L298.96 116.72 L300.82 116.07 L302.68 115.41 L304.54 114.75 L306.4 114.09 L308.26 113.41 L310.12 112.72 L311.98 112 L313.84 111.27 L315.7 110.51 L317.56 109.71 L319.42 108.89 L321.28 108.02 L323.14 107.11 L325 106.16" fill="none" stroke="#0e9a68" stroke-width="1.6" stroke-linejoin="round"/>
<line x1="250.6" y1="147.1" x2="325" y2="147.1" stroke="#f5883a" stroke-width="1.6"/>
<path d="M250.6 146.6 L252.46 144.04 L254.32 141.51 L256.18 139.01 L258.04 136.54 L259.9 134.11 L261.76 131.72 L263.62 129.36 L265.48 127.04 L267.34 124.76 L269.2 122.52 L271.06 120.32 L272.92 118.17 L274.78 116.06 L276.64 113.99 L278.5 111.98 L280.36 110.01 L282.22 108.09 L284.08 106.22 L285.94 104.41 L287.8 102.64 L289.66 100.94 L291.52 99.29 L293.38 97.69 L295.24 96.16 L297.1 94.68 L298.96 93.27 L300.82 91.92 L302.68 90.63 L304.54 89.41 L306.4 88.25 L308.26 87.16 L310.12 86.14 L311.98 85.19 L313.84 84.31 L315.7 83.5 L317.56 82.77 L319.42 82.11 L321.28 81.53 L323.14 81.03 L325 80.6" fill="none" stroke="#2020e0" stroke-width="1.6" stroke-linejoin="round"/>
<path d="M250.6 146.6 L252.46 143.74 L254.32 140.91 L256.18 138.13 L258.04 135.38 L259.9 132.68 L261.76 130.03 L263.62 127.41 L265.48 124.85 L267.34 122.33 L269.2 119.85 L271.06 117.43 L272.92 115.06 L274.78 112.73 L276.64 110.46 L278.5 108.24 L280.36 106.08 L282.22 103.97 L284.08 101.91 L285.94 99.92 L287.8 97.98 L289.66 96.1 L291.52 94.28 L293.38 92.52 L295.24 90.82 L297.1 89.19 L298.96 87.62 L300.82 86.12 L302.68 84.68 L304.54 83.31 L306.4 82.01 L308.26 80.77 L310.12 79.61 L311.98 78.52 L313.84 77.5 L315.7 76.56 L317.56 75.69 L319.42 74.89 L321.28 74.17 L323.14 73.53 L325 72.97" fill="none" stroke="#0e9a68" stroke-width="1.6" stroke-linejoin="round"/>
<path d="M250.6 146.6 L252.46 143.52 L254.32 140.46 L256.18 137.42 L258.04 134.42 L259.9 131.44 L261.76 128.5 L263.62 125.59 L265.48 122.72 L267.34 119.88 L269.2 117.07 L271.06 114.31 L272.92 111.59 L274.78 108.91 L276.64 106.27 L278.5 103.68 L280.36 101.14 L282.22 98.65 L284.08 96.2 L285.94 93.81 L287.8 91.47 L289.66 89.18 L291.52 86.96 L293.38 84.79 L295.24 82.68 L297.1 80.63 L298.96 78.64 L300.82 76.72 L302.68 74.86 L304.54 73.08 L306.4 71.36 L308.26 69.71 L310.12 68.13 L311.98 66.63 L313.84 65.2 L315.7 63.85 L317.56 62.58 L319.42 61.39 L321.28 60.28 L323.14 59.25 L325 58.31" fill="none" stroke="#f27018" stroke-width="1.6" stroke-linejoin="round"/>
<path d="M250.6 146.6 L252.46 142.75 L254.32 139.01 L256.18 135.36 L258.04 131.81 L259.9 128.36 L261.76 124.99 L263.62 121.71 L265.48 118.52 L267.34 115.41 L269.2 112.38 L271.06 109.42 L272.92 106.54 L274.78 103.73 L276.64 100.98 L278.5 98.31 L280.36 95.69 L282.22 93.14 L284.08 90.64 L285.94 88.19 L287.8 85.8 L289.66 83.46 L291.52 81.16 L293.38 78.9 L295.24 76.69 L297.1 74.51 L298.96 72.36 L300.82 70.25 L302.68 68.17 L304.54 66.11 L306.4 64.07 L308.26 62.06 L310.12 60.06 L311.98 58.08 L313.84 56.11 L315.7 54.15 L317.56 52.19 L319.42 50.24 L321.28 48.29 L323.14 46.34 L325 44.38" fill="none" stroke="#707070" stroke-width="1.2" stroke-linejoin="round"/>
<text x="324.6" y="47.2" font-size="6.8" font-family='"Liberation Serif", serif' fill="#444" text-anchor="end" stroke="#444" stroke-width="0.12">BF.7: Con</text>
<text x="324.6" y="58.6" font-size="6.8" font-family='"Liberation Serif", serif' fill="#444" text-anchor="end" stroke="#444" stroke-width="0.12">XBB.1.5: Con</text>
<text x="324.6" y="71.6" font-size="6.8" font-family='"Liberation Serif", serif' fill="#444" text-anchor="end" stroke="#444" stroke-width="0.12">WT: Con</text>
<text x="324.6" y="82" font-size="6.8" font-family='"Liberation Serif", serif' fill="#444" text-anchor="end" stroke="#444" stroke-width="0.12">BA.4/5: Con</text>
<text x="324.6" y="105.6" font-size="6.8" font-family='"Liberation Serif", serif' fill="#444" text-anchor="end" stroke="#444" stroke-width="0.12">BF.7: Cali</text>
<text x="324.6" y="113.6" font-size="6.8" font-family='"Liberation Serif", serif' fill="#444" text-anchor="end" stroke="#444" stroke-width="0.12">WT: Cali</text>
<text x="324.6" y="129.2" font-size="6.8" font-family='"Liberation Serif", serif' fill="#444" text-anchor="end" stroke="#444" stroke-width="0.12">BA.4/5: Cali</text>
<text x="324.6" y="144.2" font-size="6.8" font-family='"Liberation Serif", serif' fill="#444" text-anchor="end" stroke="#444" stroke-width="0.12">XBB.1.5: Cali</text>
<line x1="57" y1="20.5" x2="228" y2="20.5" stroke="#3cc3d8" stroke-width="1" stroke-dasharray="1.3 1.3"/>
<line x1="262" y1="20.5" x2="318" y2="20.5" stroke="#3cc3d8" stroke-width="1" stroke-dasharray="1.3 1.3"/>
<path d="M59.5 17.6 L51 20.5 L59.5 23.4 Z" fill="#1aa3c0"/>
<path d="M316.8 17.6 L325 20.5 L316.8 23.4 Z" fill="#1aa3c0"/>
<path d="M227.2 17.2 L236.6 20.5 L227.2 23.8 Z" fill="#1aa3c0"/>
<path d="M244.2 17.2 L236.6 20.5 L244.2 23.8 Z" fill="#1aa3c0"/>
<path d="M246.3 17.2 L255.2 20.5 L246.3 23.8 Z" fill="#1aa3c0"/>
<path d="M262.6 17.2 L255.2 20.5 L262.6 23.8 Z" fill="#1aa3c0"/>
<text x="141.2" y="27.6" font-size="7.5" font-family='"Liberation Serif", serif' fill="#3c3c3c" text-anchor="middle" stroke="#3c3c3c" stroke-width="0.12">mixture of sera containing NAbs and subvariant-HRP</text>
<text x="141.5" y="36.6" font-size="7.5" font-family='"Liberation Serif", serif' fill="#3c3c3c" text-anchor="middle" stroke="#3c3c3c" stroke-width="0.12">(5 min)</text>
<text x="248" y="27.6" font-size="7.5" font-family='"Liberation Serif", serif' fill="#3c3c3c" text-anchor="middle" stroke="#3c3c3c" stroke-width="0.12">wash</text>
<text x="248" y="36.6" font-size="7.5" font-family='"Liberation Serif", serif' fill="#3c3c3c" text-anchor="middle" stroke="#3c3c3c" stroke-width="0.12">(30s)</text>
<text x="289.5" y="27.6" font-size="7.5" font-family='"Liberation Serif", serif' fill="#3c3c3c" text-anchor="middle" stroke="#3c3c3c" stroke-width="0.12">signal enhancer</text>
<text x="289.5" y="36.6" font-size="7.5" font-family='"Liberation Serif", serif' fill="#3c3c3c" text-anchor="middle" stroke="#3c3c3c" stroke-width="0.12">(2 min)</text>
<rect x="47.8" y="15.8" width="276.75" height="139.2" fill="none" stroke="#1a1a1a" stroke-width="1.3"/>
<line x1="43.3" y1="155" x2="47.8" y2="155" stroke="#1a1a1a" stroke-width="1.1"/>
<text x="41.6" y="158" font-size="8.4" font-family='"Liberation Serif", serif' fill="#1a1a1a" text-anchor="end" stroke="#1a1a1a" stroke-width="0.12">0</text>
<line x1="43.3" y1="120.2" x2="47.8" y2="120.2" stroke="#1a1a1a" stroke-width="1.1"/>
<text x="41.6" y="123.2" font-size="8.4" font-family='"Liberation Serif", serif' fill="#1a1a1a" text-anchor="end" stroke="#1a1a1a" stroke-width="0.12">5</text>
<line x1="43.3" y1="85.4" x2="47.8" y2="85.4" stroke="#1a1a1a" stroke-width="1.1"/>
<text x="41.6" y="88.4" font-size="8.4" font-family='"Liberation Serif", serif' fill="#1a1a1a" text-anchor="end" stroke="#1a1a1a" stroke-width="0.12">10</text>
<line x1="43.3" y1="50.6" x2="47.8" y2="50.6" stroke="#1a1a1a" stroke-width="1.1"/>
<text x="41.6" y="53.6" font-size="8.4" font-family='"Liberation Serif", serif' fill="#1a1a1a" text-anchor="end" stroke="#1a1a1a" stroke-width="0.12">15</text>
<line x1="43.3" y1="15.8" x2="47.8" y2="15.8" stroke="#1a1a1a" stroke-width="1.1"/>
<text x="41.6" y="18.8" font-size="8.4" font-family='"Liberation Serif", serif' fill="#1a1a1a" text-anchor="end" stroke="#1a1a1a" stroke-width="0.12">20</text>
<line x1="47.8" y1="155" x2="47.8" y2="159" stroke="#1a1a1a" stroke-width="1.1"/>
<text x="47.8" y="168.7" font-size="8.5" font-family='"Liberation Serif", serif' fill="#1a1a1a" text-anchor="middle" stroke="#1a1a1a" stroke-width="0.12">0</text>
<line x1="66.25" y1="155" x2="66.25" y2="157.5" stroke="#1a1a1a" stroke-width="1.1"/>
<line x1="84.7" y1="155" x2="84.7" y2="159" stroke="#1a1a1a" stroke-width="1.1"/>
<text x="84.7" y="168.7" font-size="8.5" font-family='"Liberation Serif", serif' fill="#1a1a1a" text-anchor="middle" stroke="#1a1a1a" stroke-width="0.12">1</text>
<line x1="103.15" y1="155" x2="103.15" y2="157.5" stroke="#1a1a1a" stroke-width="1.1"/>
<line x1="121.6" y1="155" x2="121.6" y2="159" stroke="#1a1a1a" stroke-width="1.1"/>
<text x="121.6" y="168.7" font-size="8.5" font-family='"Liberation Serif", serif' fill="#1a1a1a" text-anchor="middle" stroke="#1a1a1a" stroke-width="0.12">2</text>
<line x1="140.05" y1="155" x2="140.05" y2="157.5" stroke="#1a1a1a" stroke-width="1.1"/>
<line x1="158.5" y1="155" x2="158.5" y2="159" stroke="#1a1a1a" stroke-width="1.1"/>
<text x="158.5" y="168.7" font-size="8.5" font-family='"Liberation Serif", serif' fill="#1a1a1a" text-anchor="middle" stroke="#1a1a1a" stroke-width="0.12">3</text>
<line x1="176.95" y1="155" x2="176.95" y2="157.5" stroke="#1a1a1a" stroke-width="1.1"/>
<line x1="195.4" y1="155" x2="195.4" y2="159" stroke="#1a1a1a" stroke-width="1.1"/>
<text x="195.4" y="168.7" font-size="8.5" font-family='"Liberation Serif", serif' fill="#1a1a1a" text-anchor="middle" stroke="#1a1a1a" stroke-width="0.12">4</text>
<line x1="213.85" y1="155" x2="213.85" y2="157.5" stroke="#1a1a1a" stroke-width="1.1"/>
<line x1="232.3" y1="155" x2="232.3" y2="159" stroke="#1a1a1a" stroke-width="1.1"/>
<text x="232.3" y="168.7" font-size="8.5" font-family='"Liberation Serif", serif' fill="#1a1a1a" text-anchor="middle" stroke="#1a1a1a" stroke-width="0.12">5</text>
<line x1="250.75" y1="155" x2="250.75" y2="157.5" stroke="#1a1a1a" stroke-width="1.1"/>
<line x1="269.2" y1="155" x2="269.2" y2="159" stroke="#1a1a1a" stroke-width="1.1"/>
<text x="269.2" y="168.7" font-size="8.5" font-family='"Liberation Serif", serif' fill="#1a1a1a" text-anchor="middle" stroke="#1a1a1a" stroke-width="0.12">6</text>
<line x1="287.65" y1="155" x2="287.65" y2="157.5" stroke="#1a1a1a" stroke-width="1.1"/>
<line x1="306.1" y1="155" x2="306.1" y2="159" stroke="#1a1a1a" stroke-width="1.1"/>
<text x="306.1" y="168.7" font-size="8.5" font-family='"Liberation Serif", serif' fill="#1a1a1a" text-anchor="middle" stroke="#1a1a1a" stroke-width="0.12">7</text>
<text x="27" y="85" font-size="8.1" font-family='"Liberation Sans", sans-serif' fill="#333" text-anchor="middle" transform="rotate(-90 27 85)" stroke="#333" stroke-width="0.12">Shift (nm)</text>
<text x="187.1" y="181.6" font-size="9" font-family='"Liberation Serif", serif' fill="#222" text-anchor="middle" stroke="#222" stroke-width="0.12">Time (mins)</text>
<text x="329.6" y="15.3" font-size="13.2" font-family='"Liberation Serif", serif' fill="#1a1a1a" font-weight="bold" letter-spacing="0.8">(B)</text>
<rect x="366.7" y="16.4" width="170.55" height="139.2" fill="none" stroke="#1a1a1a" stroke-width="1.3"/>
<line x1="362.2" y1="155.6" x2="366.7" y2="155.6" stroke="#1a1a1a" stroke-width="1.1"/>
<text x="360.2" y="158" font-size="7" font-family='"Liberation Serif", serif' fill="#1a1a1a" text-anchor="end" stroke="#1a1a1a" stroke-width="0.12">0</text>
<line x1="362.2" y1="127.76" x2="366.7" y2="127.76" stroke="#1a1a1a" stroke-width="1.1"/>
<text x="360.2" y="130.16" font-size="7" font-family='"Liberation Serif", serif' fill="#1a1a1a" text-anchor="end" stroke="#1a1a1a" stroke-width="0.12">20</text>
<line x1="362.2" y1="99.92" x2="366.7" y2="99.92" stroke="#1a1a1a" stroke-width="1.1"/>
<text x="360.2" y="102.32" font-size="7" font-family='"Liberation Serif", serif' fill="#1a1a1a" text-anchor="end" stroke="#1a1a1a" stroke-width="0.12">40</text>
<line x1="362.2" y1="72.08" x2="366.7" y2="72.08" stroke="#1a1a1a" stroke-width="1.1"/>
<text x="360.2" y="74.48" font-size="7" font-family='"Liberation Serif", serif' fill="#1a1a1a" text-anchor="end" stroke="#1a1a1a" stroke-width="0.12">60</text>
<line x1="362.2" y1="44.24" x2="366.7" y2="44.24" stroke="#1a1a1a" stroke-width="1.1"/>
<text x="360.2" y="46.64" font-size="7" font-family='"Liberation Serif", serif' fill="#1a1a1a" text-anchor="end" stroke="#1a1a1a" stroke-width="0.12">80</text>
<line x1="362.2" y1="16.4" x2="366.7" y2="16.4" stroke="#1a1a1a" stroke-width="1.1"/>
<text x="360.2" y="18.8" font-size="7" font-family='"Liberation Serif", serif' fill="#1a1a1a" text-anchor="end" stroke="#1a1a1a" stroke-width="0.12">100</text>
<line x1="366.7" y1="155.6" x2="366.7" y2="159.4" stroke="#1a1a1a" stroke-width="1.1"/>
<text x="366.7" y="169.6" font-size="7.4" font-family='"Liberation Serif", serif' fill="#1a1a1a" text-anchor="middle" stroke="#1a1a1a" stroke-width="0.12">0.9</text>
<line x1="400.81" y1="155.6" x2="400.81" y2="159.4" stroke="#1a1a1a" stroke-width="1.1"/>
<text x="400.81" y="169.6" font-size="7.4" font-family='"Liberation Serif", serif' fill="#1a1a1a" text-anchor="middle" stroke="#1a1a1a" stroke-width="0.12">1.2</text>
<line x1="434.92" y1="155.6" x2="434.92" y2="159.4" stroke="#1a1a1a" stroke-width="1.1"/>
<text x="434.92" y="169.6" font-size="7.4" font-family='"Liberation Serif", serif' fill="#1a1a1a" text-anchor="middle" stroke="#1a1a1a" stroke-width="0.12">1.5</text>
<line x1="469.03" y1="155.6" x2="469.03" y2="159.4" stroke="#1a1a1a" stroke-width="1.1"/>
<text x="469.03" y="169.6" font-size="7.4" font-family='"Liberation Serif", serif' fill="#1a1a1a" text-anchor="middle" stroke="#1a1a1a" stroke-width="0.12">1.8</text>
<line x1="503.14" y1="155.6" x2="503.14" y2="159.4" stroke="#1a1a1a" stroke-width="1.1"/>
<text x="503.14" y="169.6" font-size="7.4" font-family='"Liberation Serif", serif' fill="#1a1a1a" text-anchor="middle" stroke="#1a1a1a" stroke-width="0.12">2.1</text>
<line x1="537.25" y1="155.6" x2="537.25" y2="159.4" stroke="#1a1a1a" stroke-width="1.1"/>
<text x="537.25" y="169.6" font-size="7.4" font-family='"Liberation Serif", serif' fill="#1a1a1a" text-anchor="middle" stroke="#1a1a1a" stroke-width="0.12">2.4</text>
<text x="452.5" y="181" font-size="7.7" font-family='"Liberation Serif", serif' fill="#222" text-anchor="middle" stroke="#222" stroke-width="0.12">log [Cali. WT-NAb (ng/mL)]</text>
<text x="343.2" y="86.5" font-size="7.2" font-family='"Liberation Serif", serif' fill="#222" text-anchor="middle" transform="rotate(-90 343.2 86.5)" stroke="#222" stroke-width="0.12">Inhibition (%)</text>
<text x="370.6" y="24.8" font-size="7.5" font-family='"Liberation Serif", serif' fill="#222" stroke="#222" stroke-width="0.12">In 100× sera ranging 0-200 ng/mL.</text>
<text x="370.6" y="34.7" font-size="7.75" font-family='"Liberation Serif", serif' fill="#222" stroke="#222" stroke-width="0.12">R<tspan font-size="5" dy="-3">2</tspan><tspan dy="3"> = 0.995, IC50 = 50.93, n = 3</tspan></text>
<path d="M378.07 141.92 L380.53 141.4 L383 140.84 L385.46 140.22 L387.92 139.56 L390.39 138.83 L392.85 138.04 L395.31 137.18 L397.78 136.25 L400.24 135.23 L402.7 134.14 L405.17 132.96 L407.63 131.69 L410.1 130.32 L412.56 128.84 L415.02 127.27 L417.49 125.58 L419.95 123.78 L422.41 121.87 L424.88 119.84 L427.34 117.69 L429.8 115.42 L432.27 113.04 L434.73 110.55 L437.19 107.95 L439.66 105.25 L442.12 102.45 L444.58 99.56 L447.05 96.59 L449.51 93.56 L451.97 90.48 L454.44 87.35 L456.9 84.2 L459.37 81.04 L461.83 77.87 L464.29 74.73 L466.76 71.61 L469.22 68.54 L471.68 65.53 L474.15 62.59 L476.61 59.72 L479.07 56.95 L481.54 54.27 L484 51.7 L486.46 49.24 L488.93 46.89 L491.39 44.66 L493.85 42.54 L496.32 40.54 L498.78 38.66 L501.25 36.89 L503.71 35.24 L506.17 33.69 L508.64 32.25 L511.1 30.9 L513.56 29.66 L516.03 28.5 L518.49 27.43 L520.95 26.44 L523.42 25.53 L525.88 24.69" fill="none" stroke="#16a3b8" stroke-width="1.8"/>
<circle cx="378.07" cy="141.26" r="2.9" fill="#16a3b8"/>
<circle cx="412.18" cy="126.37" r="2.9" fill="#16a3b8"/>
<circle cx="457.77" cy="84.05" r="2.9" fill="#16a3b8"/>
<circle cx="480.4" cy="45.63" r="2.9" fill="#16a3b8"/>
<circle cx="492.22" cy="40.76" r="2.9" fill="#16a3b8"/>
<circle cx="525.88" cy="25.31" r="2.9" fill="#16a3b8"/>
<line x1="457.77" y1="79.6" x2="457.77" y2="89.2" stroke="#16a3b8" stroke-width="1.1"/>
<line x1="455.57" y1="79.6" x2="459.97" y2="79.6" stroke="#16a3b8" stroke-width="1.1"/>
<line x1="455.57" y1="89.2" x2="459.97" y2="89.2" stroke="#16a3b8" stroke-width="1.1"/>
<text x="7.4" y="207.3" font-size="13.2" font-family='"Liberation Serif", serif' fill="#1a1a1a" font-weight="bold" letter-spacing="0.8">(C)</text>
<text x="49" y="206.6" font-size="8.1" font-family='"Liberation Serif", serif' fill="#222" text-anchor="middle" stroke="#222" stroke-width="0.12">Day0</text>
<path d="M48.7 244.2 L48.7 217.2 A28.21 27 0 1 1 20.64 247.02 Z" fill="#fe8402"/>
<path d="M47.2 242.6 L19.14 245.42 A28.21 27 0 0 1 47.2 215.6 Z" fill="#0000fc"/>
<text x="36.8" y="236.6" font-size="7.5" font-family='"Liberation Sans", sans-serif' fill="#fff8ee" text-anchor="middle">26.7%</text>
<text x="51" y="254.6" font-size="7.5" font-family='"Liberation Sans", sans-serif' fill="#fff8ee" text-anchor="middle">73.3%</text>
<text x="115" y="206.6" font-size="8.1" font-family='"Liberation Serif", serif' fill="#222" text-anchor="middle" stroke="#222" stroke-width="0.12">Day7</text>
<path d="M111.9 244.2 L111.9 217.2 A28.62 27 0 1 1 100.26 219.53 Z" fill="#fe8402"/>
<path d="M111.3 241.6 L99.66 216.93 A28.62 27 0 0 1 111.3 214.6 Z" fill="#0000fc"/>
<text x="113.9" y="231" font-size="7.5" font-family='"Liberation Sans", sans-serif' fill="#fff8ee" text-anchor="middle">6.7%</text>
<text x="112.9" y="254.6" font-size="7.5" font-family='"Liberation Sans", sans-serif' fill="#fff8ee" text-anchor="middle">93.3%</text>
<text x="178.7" y="206.6" font-size="8.1" font-family='"Liberation Serif", serif' fill="#222" text-anchor="middle" stroke="#222" stroke-width="0.12">Day14</text>
<ellipse cx="176" cy="243.4" rx="29.6" ry="28" fill="#fe8402"/>
<text x="177.4" y="253.8" font-size="7.9" font-family='"Liberation Sans", sans-serif' fill="#fff8ee" text-anchor="middle">100%</text>
<text x="244.3" y="206.6" font-size="8.1" font-family='"Liberation Serif", serif' fill="#222" text-anchor="middle" stroke="#222" stroke-width="0.12">Day21</text>
<ellipse cx="241.4" cy="243.4" rx="29.6" ry="28" fill="#fe8402"/>
<text x="243" y="253.8" font-size="7.9" font-family='"Liberation Sans", sans-serif' fill="#fff8ee" text-anchor="middle">100%</text>
<text x="308.2" y="206.6" font-size="8.1" font-family='"Liberation Serif", serif' fill="#222" text-anchor="middle" stroke="#222" stroke-width="0.12">Day29</text>
<ellipse cx="306.5" cy="243" rx="30" ry="28.2" fill="#fe8402"/>
<text x="308.9" y="253.8" font-size="7.9" font-family='"Liberation Sans", sans-serif' fill="#fff8ee" text-anchor="middle">100%</text>
<text x="371.8" y="206.6" font-size="8.1" font-family='"Liberation Serif", serif' fill="#222" text-anchor="middle" stroke="#222" stroke-width="0.12">Day90</text>
<ellipse cx="373" cy="243.6" rx="30" ry="28.2" fill="#0000fc"/>
<text x="374" y="257.2" font-size="7.9" font-family='"Liberation Sans", sans-serif' fill="#fff8ee" text-anchor="middle">100%</text>
<text x="438.2" y="206.6" font-size="8.1" font-family='"Liberation Serif", serif' fill="#222" text-anchor="middle" stroke="#222" stroke-width="0.12">Day270</text>
<path d="M437.3 243.3 L462.46 229.1 A29.05 28.4 0 1 1 437.3 214.9 Z" fill="#0000fc"/>
<path d="M438.6 241.2 L438.6 212.8 A29.05 28.4 0 0 1 463.76 227 Z" fill="#fe8402"/>
<text x="448.5" y="231.2" font-size="7.5" font-family='"Liberation Sans", sans-serif' fill="#fff8ee" text-anchor="middle">16.7%</text>
<text x="437.6" y="257" font-size="7.5" font-family='"Liberation Sans", sans-serif' fill="#fff8ee" text-anchor="middle">83.3%</text>
<text x="473" y="215.6" font-size="8" font-family='"Liberation Serif", serif' fill="#222" stroke="#222" stroke-width="0.12">Seroconversion</text>
<text x="473" y="224.6" font-size="8" font-family='"Liberation Serif", serif' fill="#222" stroke="#222" stroke-width="0.12">(Sera | DBS)</text>
<rect x="472.3" y="240.5" width="14.4" height="5.6" fill="#fe8402"/>
<rect x="472.3" y="254.5" width="14.4" height="5.6" fill="#0000fc"/>
<text x="488.6" y="245.3" font-size="7.9" font-family='"Liberation Serif", serif' fill="#222" stroke="#222" stroke-width="0.12">positive</text>
<text x="488.6" y="259.4" font-size="7.9" font-family='"Liberation Serif", serif' fill="#222" stroke="#222" stroke-width="0.12">negative</text>
<text x="7.6" y="304.1" font-size="13.2" font-family='"Liberation Serif", serif' fill="#1a1a1a" font-weight="bold" letter-spacing="0.8">(D)</text>
<line x1="51.7" y1="328.6" x2="51.7" y2="500" stroke="#1a1a1a" stroke-width="1.3"/>
<line x1="51.7" y1="500" x2="244.5" y2="500" stroke="#1a1a1a" stroke-width="1.3"/>
<line x1="46.7" y1="484.2" x2="51.7" y2="484.2" stroke="#1a1a1a" stroke-width="1.1"/>
<text x="45.8" y="487" font-size="8.1" font-family='"Liberation Serif", serif' fill="#1a1a1a" text-anchor="end" stroke="#1a1a1a" stroke-width="0.12">0</text>
<line x1="46.7" y1="453.08" x2="51.7" y2="453.08" stroke="#1a1a1a" stroke-width="1.1"/>
<text x="45.8" y="455.88" font-size="8.1" font-family='"Liberation Serif", serif' fill="#1a1a1a" text-anchor="end" stroke="#1a1a1a" stroke-width="0.12">20</text>
<line x1="46.7" y1="421.96" x2="51.7" y2="421.96" stroke="#1a1a1a" stroke-width="1.1"/>
<text x="45.8" y="424.76" font-size="8.1" font-family='"Liberation Serif", serif' fill="#1a1a1a" text-anchor="end" stroke="#1a1a1a" stroke-width="0.12">40</text>
<line x1="46.7" y1="390.84" x2="51.7" y2="390.84" stroke="#1a1a1a" stroke-width="1.1"/>
<text x="45.8" y="393.64" font-size="8.1" font-family='"Liberation Serif", serif' fill="#1a1a1a" text-anchor="end" stroke="#1a1a1a" stroke-width="0.12">60</text>
<line x1="46.7" y1="359.72" x2="51.7" y2="359.72" stroke="#1a1a1a" stroke-width="1.1"/>
<text x="45.8" y="362.52" font-size="8.1" font-family='"Liberation Serif", serif' fill="#1a1a1a" text-anchor="end" stroke="#1a1a1a" stroke-width="0.12">80</text>
<line x1="46.7" y1="328.6" x2="51.7" y2="328.6" stroke="#1a1a1a" stroke-width="1.1"/>
<text x="45.8" y="331.4" font-size="8.1" font-family='"Liberation Serif", serif' fill="#1a1a1a" text-anchor="end" stroke="#1a1a1a" stroke-width="0.12">100</text>
<line x1="68.9" y1="500" x2="68.9" y2="503.8" stroke="#1a1a1a" stroke-width="1.1"/>
<text x="69.2" y="514" font-size="8.7" font-family='"Liberation Serif", serif' fill="#1a1a1a" text-anchor="middle" stroke="#1a1a1a" stroke-width="0.12">Day0</text>
<line x1="95" y1="500" x2="95" y2="503.8" stroke="#1a1a1a" stroke-width="1.1"/>
<text x="95.3" y="514" font-size="8.7" font-family='"Liberation Serif", serif' fill="#1a1a1a" text-anchor="middle" stroke="#1a1a1a" stroke-width="0.12">Day7</text>
<line x1="121.5" y1="500" x2="121.5" y2="503.8" stroke="#1a1a1a" stroke-width="1.1"/>
<text x="121.8" y="514" font-size="8.7" font-family='"Liberation Serif", serif' fill="#1a1a1a" text-anchor="middle" stroke="#1a1a1a" stroke-width="0.12">Day14</text>
<line x1="147.6" y1="500" x2="147.6" y2="503.8" stroke="#1a1a1a" stroke-width="1.1"/>
<text x="147.9" y="514" font-size="8.7" font-family='"Liberation Serif", serif' fill="#1a1a1a" text-anchor="middle" stroke="#1a1a1a" stroke-width="0.12">Day21</text>
<line x1="173.8" y1="500" x2="173.8" y2="503.8" stroke="#1a1a1a" stroke-width="1.1"/>
<text x="174.1" y="514" font-size="8.7" font-family='"Liberation Serif", serif' fill="#1a1a1a" text-anchor="middle" stroke="#1a1a1a" stroke-width="0.12">Day29</text>
<line x1="200" y1="500" x2="200" y2="503.8" stroke="#1a1a1a" stroke-width="1.1"/>
<text x="200.3" y="514" font-size="8.7" font-family='"Liberation Serif", serif' fill="#1a1a1a" text-anchor="middle" stroke="#1a1a1a" stroke-width="0.12">Day90</text>
<line x1="226.5" y1="500" x2="226.5" y2="503.8" stroke="#1a1a1a" stroke-width="1.1"/>
<text x="226.8" y="514" font-size="8.7" font-family='"Liberation Serif", serif' fill="#1a1a1a" text-anchor="middle" stroke="#1a1a1a" stroke-width="0.12">Day270</text>
<text x="25" y="414.4" font-size="8.1" font-family='"Liberation Serif", serif' fill="#222" text-anchor="middle" transform="rotate(-90 25 414.4)" stroke="#222" stroke-width="0.12">Inhibition of Sera NAbs (%)</text>
<line x1="69.1" y1="345.2" x2="94.7" y2="345.2" stroke="#1a1a1a" stroke-width="1.3"/>
<text x="69.6" y="341.2" font-size="7.8" font-family='"Liberation Serif", serif' fill="#222" stroke="#222" stroke-width="0.12">0.0257</text>
<line x1="69.1" y1="330.2" x2="120.9" y2="330.2" stroke="#1a1a1a" stroke-width="1.3"/>
<text x="95.3" y="325.8" font-size="7.8" font-family='"Liberation Serif", serif' fill="#222" text-anchor="middle" stroke="#222" stroke-width="0.12">&lt;0.0001</text>
<line x1="69.1" y1="313.8" x2="147.6" y2="313.8" stroke="#1a1a1a" stroke-width="1.3"/>
<text x="107.8" y="309.4" font-size="7.8" font-family='"Liberation Serif", serif' fill="#222" text-anchor="middle" stroke="#222" stroke-width="0.12">&lt;0.0001</text>
<line x1="69.1" y1="297.4" x2="173.8" y2="297.4" stroke="#1a1a1a" stroke-width="1.3"/>
<text x="121.5" y="293" font-size="7.8" font-family='"Liberation Serif", serif' fill="#222" text-anchor="middle" stroke="#222" stroke-width="0.12">&lt;0.0001</text>
<line x1="68.9" y1="434.4" x2="68.9" y2="498.5" stroke="#111" stroke-width="1.25"/>
<path d="M68.9 442.7C69.6 443.33 71.87 445.03 73.1 446.5C74.33 447.97 75.83 449.75 76.3 451.5C76.77 453.25 76.13 455.08 75.9 457C75.67 458.92 75.08 461.25 74.9 463C74.72 464.75 74.67 466.17 74.8 467.5C74.93 468.83 75.45 469.92 75.7 471C75.95 472.08 76.33 472.83 76.3 474C76.27 475.17 75.43 476.5 75.5 478C75.57 479.5 76.97 481.42 76.7 483C76.43 484.58 75.2 485.88 73.9 487.5C72.6 489.12 69.73 491.83 68.9 492.7 L68.9 492.7C68.07 491.83 65.2 489.12 63.9 487.5C62.6 485.88 61.37 484.58 61.1 483C60.83 481.42 62.23 479.5 62.3 478C62.37 476.5 61.53 475.17 61.5 474C61.47 472.83 61.85 472.08 62.1 471C62.35 469.92 62.87 468.83 63 467.5C63.13 466.17 63.08 464.75 62.9 463C62.72 461.25 62.13 458.92 61.9 457C61.67 455.08 61.03 453.25 61.5 451.5C61.97 449.75 63.47 447.97 64.7 446.5C65.93 445.03 68.2 443.33 68.9 442.7Z" fill="#f7eccf" stroke="#111" stroke-width="1.25"/>
<circle cx="65.9" cy="451.52" r="2.85" fill="#0aeea2"/>
<circle cx="69.4" cy="451.21" r="2.85" fill="#0aeea2"/>
<circle cx="72.4" cy="451.52" r="2.85" fill="#0aeea2"/>
<circle cx="63.4" cy="453.08" r="2.85" fill="#0aeea2"/>
<circle cx="67.4" cy="453.7" r="2.85" fill="#0aeea2"/>
<circle cx="71.4" cy="453.08" r="2.85" fill="#0aeea2"/>
<circle cx="74.9" cy="453.08" r="2.85" fill="#0aeea2"/>
<circle cx="65.9" cy="454.64" r="2.85" fill="#0aeea2"/>
<circle cx="69.9" cy="454.95" r="2.85" fill="#0aeea2"/>
<circle cx="65.9" cy="460.86" r="2.85" fill="#0aeea2"/>
<circle cx="68.9" cy="460.55" r="2.85" fill="#0aeea2"/>
<circle cx="71.9" cy="460.86" r="2.85" fill="#0aeea2"/>
<circle cx="67.9" cy="462.42" r="2.85" fill="#0aeea2"/>
<circle cx="67.9" cy="468.33" r="2.85" fill="#0aeea2"/>
<circle cx="63.7" cy="473.31" r="2.85" fill="#0aeea2"/>
<circle cx="67.4" cy="473" r="2.85" fill="#0aeea2"/>
<circle cx="71.4" cy="473.31" r="2.85" fill="#0aeea2"/>
<circle cx="74.7" cy="473.31" r="2.85" fill="#0aeea2"/>
<circle cx="65.9" cy="474.86" r="2.85" fill="#0aeea2"/>
<circle cx="69.9" cy="475.18" r="2.85" fill="#0aeea2"/>
<circle cx="72.9" cy="474.86" r="2.85" fill="#0aeea2"/>
<circle cx="67.9" cy="476.42" r="2.85" fill="#0aeea2"/>
<circle cx="63.4" cy="483.73" r="2.85" fill="#0aeea2"/>
<circle cx="66.4" cy="484.2" r="2.85" fill="#0aeea2"/>
<circle cx="69.4" cy="483.89" r="2.85" fill="#0aeea2"/>
<circle cx="72.4" cy="484.2" r="2.85" fill="#0aeea2"/>
<circle cx="74.9" cy="483.73" r="2.85" fill="#0aeea2"/>
<circle cx="64.9" cy="482.33" r="2.85" fill="#0aeea2"/>
<circle cx="70.9" cy="482.33" r="2.85" fill="#0aeea2"/>
<line x1="95" y1="404" x2="95" y2="500.5" stroke="#111" stroke-width="1.25"/>
<path d="M95 412.5C95.27 413.08 96.17 414.93 96.6 416C97.03 417.07 97.62 417.9 97.6 418.9C97.58 419.9 96.85 420.87 96.5 422C96.15 423.13 95.17 424.12 95.5 425.7C95.83 427.28 97.5 429.53 98.5 431.5C99.5 433.47 100.75 435.32 101.5 437.5C102.25 439.68 103 442.18 103 444.6C103 447.02 102.23 449.43 101.5 452C100.77 454.57 99.43 457.4 98.6 460C97.77 462.6 97.02 464.98 96.5 467.6C95.98 470.22 95.45 473.63 95.5 475.7C95.55 477.77 96.53 478.53 96.8 480C97.07 481.47 97.35 483 97.1 484.5C96.85 486 95.6 488.25 95.3 489 L94.7 489C94.4 488.25 93.15 486 92.9 484.5C92.65 483 92.93 481.47 93.2 480C93.47 478.53 94.45 477.77 94.5 475.7C94.55 473.63 94.02 470.22 93.5 467.6C92.98 464.98 92.23 462.6 91.4 460C90.57 457.4 89.23 454.57 88.5 452C87.77 449.43 87 447.02 87 444.6C87 442.18 87.75 439.68 88.5 437.5C89.25 435.32 90.5 433.47 91.5 431.5C92.5 429.53 94.17 427.28 94.5 425.7C94.83 424.12 93.85 423.13 93.5 422C93.15 420.87 92.42 419.9 92.4 418.9C92.38 417.9 92.97 417.07 93.4 416C93.83 414.93 94.73 413.08 95 412.5Z" fill="#f7eccf" stroke="#111" stroke-width="1.25"/>
<circle cx="95" cy="419.16" r="2.85" fill="#fc7a7a"/>
<circle cx="95" cy="434.41" r="2.85" fill="#fc7a7a"/>
<circle cx="89" cy="440.63" r="2.85" fill="#fc7a7a"/>
<circle cx="93" cy="439.08" r="2.85" fill="#fc7a7a"/>
<circle cx="97" cy="439.85" r="2.85" fill="#fc7a7a"/>
<circle cx="101" cy="442.19" r="2.85" fill="#fc7a7a"/>
<circle cx="90.5" cy="445.3" r="2.85" fill="#fc7a7a"/>
<circle cx="95" cy="446.08" r="2.85" fill="#fc7a7a"/>
<circle cx="99" cy="444.52" r="2.85" fill="#fc7a7a"/>
<circle cx="89" cy="449.97" r="2.85" fill="#fc7a7a"/>
<circle cx="93" cy="451.52" r="2.85" fill="#fc7a7a"/>
<circle cx="98" cy="449.97" r="2.85" fill="#fc7a7a"/>
<circle cx="101.2" cy="451.52" r="2.85" fill="#fc7a7a"/>
<circle cx="91" cy="456.19" r="2.85" fill="#fc7a7a"/>
<circle cx="95" cy="457.75" r="2.85" fill="#fc7a7a"/>
<circle cx="99" cy="454.64" r="2.85" fill="#fc7a7a"/>
<circle cx="94" cy="460.86" r="2.85" fill="#fc7a7a"/>
<circle cx="97" cy="463.97" r="2.85" fill="#fc7a7a"/>
<circle cx="95" cy="467.4" r="2.85" fill="#fc7a7a"/>
<circle cx="95" cy="484.2" r="2.85" fill="#fc7a7a"/>
<line x1="121.5" y1="336.8" x2="121.5" y2="500.5" stroke="#111" stroke-width="1.25"/>
<path d="M121.5 345C121.67 347 122.23 353.67 122.5 357C122.77 360.33 122.93 362.95 123.1 365C123.27 367.05 123.33 366.8 123.5 369.3C123.67 371.8 123.88 376.22 124.1 380C124.32 383.78 124.67 388.43 124.8 392C124.93 395.57 124.95 398.4 124.9 401.4C124.85 404.4 124.63 407.07 124.5 410C124.37 412.93 123.93 416 124.1 419C124.27 422 124.85 425 125.5 428C126.15 431 127.25 433.7 128 437C128.75 440.3 129.82 444.3 130 447.8C130.18 451.3 129.65 454.8 129.1 458C128.55 461.2 127.53 464 126.7 467C125.87 470 124.97 472.93 124.1 476C123.23 479.07 121.93 483.83 121.5 485.4 L121.5 485.4C121.07 483.83 119.77 479.07 118.9 476C118.03 472.93 117.13 470 116.3 467C115.47 464 114.45 461.2 113.9 458C113.35 454.8 112.82 451.3 113 447.8C113.18 444.3 114.25 440.3 115 437C115.75 433.7 116.85 431 117.5 428C118.15 425 118.73 422 118.9 419C119.07 416 118.63 412.93 118.5 410C118.37 407.07 118.15 404.4 118.1 401.4C118.05 398.4 118.07 395.57 118.2 392C118.33 388.43 118.68 383.78 118.9 380C119.12 376.22 119.33 371.8 119.5 369.3C119.67 366.8 119.73 367.05 119.9 365C120.07 362.95 120.23 360.33 120.5 357C120.77 353.67 121.33 347 121.5 345Z" fill="#f7eccf" stroke="#111" stroke-width="1.25"/>
<circle cx="121.5" cy="369.52" r="2.85" fill="#ff9c1c"/>
<circle cx="121.5" cy="394.57" r="2.85" fill="#ff9c1c"/>
<circle cx="114.5" cy="403.29" r="2.85" fill="#ff9c1c"/>
<circle cx="121.5" cy="406.4" r="2.85" fill="#ff9c1c"/>
<circle cx="114.5" cy="425.85" r="2.85" fill="#ff9c1c"/>
<circle cx="121.5" cy="426.94" r="2.85" fill="#ff9c1c"/>
<circle cx="114.5" cy="443.59" r="2.85" fill="#ff9c1c"/>
<circle cx="121.5" cy="445.77" r="2.85" fill="#ff9c1c"/>
<circle cx="127.7" cy="445.3" r="2.85" fill="#ff9c1c"/>
<circle cx="121.5" cy="450.12" r="2.85" fill="#ff9c1c"/>
<circle cx="118.2" cy="458.06" r="2.85" fill="#ff9c1c"/>
<circle cx="124.8" cy="457.59" r="2.85" fill="#ff9c1c"/>
<circle cx="121.5" cy="463.51" r="2.85" fill="#ff9c1c"/>
<circle cx="121.5" cy="469.73" r="2.85" fill="#ff9c1c"/>
<line x1="147.6" y1="371.3" x2="147.6" y2="474.5" stroke="#111" stroke-width="1.25"/>
<path d="M147.6 376C147.85 377 148.35 379.67 149.1 382C149.85 384.33 151.32 387 152.1 390C152.88 393 153.33 395 153.8 400C154.27 405 154.57 413.33 154.9 420C155.23 426.67 155.75 434.33 155.8 440C155.85 445.67 155.73 450.67 155.2 454C154.67 457.33 153.87 458.03 152.6 460C151.33 461.97 148.43 464.83 147.6 465.8 L147.6 465.8C146.77 464.83 143.87 461.97 142.6 460C141.33 458.03 140.53 457.33 140 454C139.47 450.67 139.35 445.67 139.4 440C139.45 434.33 139.97 426.67 140.3 420C140.63 413.33 140.93 405 141.4 400C141.87 395 142.32 393 143.1 390C143.88 387 145.35 384.33 146.1 382C146.85 379.67 147.35 377 147.6 376Z" fill="#f7eccf" stroke="#111" stroke-width="1.25"/>
<line x1="140" y1="446.23" x2="155.2" y2="446.23" stroke="#14f014" stroke-width="0.8"/>
<circle cx="147.6" cy="393.02" r="2.85" fill="#14f014"/>
<circle cx="144.7" cy="402.04" r="2.85" fill="#14f014"/>
<circle cx="150.6" cy="402.04" r="2.85" fill="#14f014"/>
<circle cx="147.6" cy="406.71" r="2.85" fill="#14f014"/>
<circle cx="147.6" cy="417.29" r="2.85" fill="#14f014"/>
<circle cx="141.2" cy="421.49" r="2.85" fill="#14f014"/>
<circle cx="147.6" cy="424.76" r="2.85" fill="#14f014"/>
<circle cx="141.2" cy="435.03" r="2.85" fill="#14f014"/>
<circle cx="147.6" cy="434.25" r="2.85" fill="#14f014"/>
<circle cx="154" cy="434.41" r="2.85" fill="#14f014"/>
<circle cx="154" cy="439.85" r="2.85" fill="#14f014"/>
<circle cx="154" cy="446.23" r="2.85" fill="#14f014"/>
<circle cx="141.2" cy="453.24" r="2.85" fill="#14f014"/>
<circle cx="147.6" cy="450.9" r="2.85" fill="#14f014"/>
<circle cx="154" cy="453.24" r="2.85" fill="#14f014"/>
<line x1="173.8" y1="368.2" x2="173.8" y2="478.5" stroke="#111" stroke-width="1.25"/>
<path d="M173.8 374C173.97 375.15 174.38 378.43 174.8 380.9C175.22 383.37 176 385.62 176.3 388.8C176.6 391.98 176.52 396.03 176.6 400C176.68 403.97 176.73 409.17 176.8 412.6C176.87 416.03 176.33 417.15 177 420.6C177.67 424.05 179.92 429.87 180.8 433.3C181.68 436.73 182.22 437.77 182.3 441.2C182.38 444.63 182.05 450.73 181.3 453.9C180.55 457.07 179.05 457.82 177.8 460.2C176.55 462.58 174.47 466.87 173.8 468.2 L173.8 468.2C173.13 466.87 171.05 462.58 169.8 460.2C168.55 457.82 167.05 457.07 166.3 453.9C165.55 450.73 165.22 444.63 165.3 441.2C165.38 437.77 165.92 436.73 166.8 433.3C167.68 429.87 169.93 424.05 170.6 420.6C171.27 417.15 170.73 416.03 170.8 412.6C170.87 409.17 170.92 403.97 171 400C171.08 396.03 171 391.98 171.3 388.8C171.6 385.62 172.38 383.37 172.8 380.9C173.22 378.43 173.63 375.15 173.8 374Z" fill="#f7eccf" stroke="#111" stroke-width="1.25"/>
<line x1="166.2" y1="451.84" x2="181.4" y2="451.84" stroke="#dc48ea" stroke-width="0.8"/>
<circle cx="173.8" cy="390.53" r="2.85" fill="#dc48ea"/>
<circle cx="173.8" cy="400.95" r="2.85" fill="#dc48ea"/>
<circle cx="173.8" cy="411.22" r="2.85" fill="#dc48ea"/>
<circle cx="173.8" cy="416.83" r="2.85" fill="#dc48ea"/>
<circle cx="173.8" cy="430.36" r="2.85" fill="#dc48ea"/>
<circle cx="167.7" cy="439.08" r="2.85" fill="#dc48ea"/>
<circle cx="171.7" cy="438.3" r="2.85" fill="#dc48ea"/>
<circle cx="176.5" cy="437.21" r="2.85" fill="#dc48ea"/>
<circle cx="179.7" cy="436.59" r="2.85" fill="#dc48ea"/>
<circle cx="170.6" cy="444.68" r="2.85" fill="#dc48ea"/>
<circle cx="175.7" cy="442.97" r="2.85" fill="#dc48ea"/>
<circle cx="167" cy="451.68" r="2.85" fill="#dc48ea"/>
<circle cx="167" cy="457.28" r="2.85" fill="#dc48ea"/>
<circle cx="175.7" cy="455.73" r="2.85" fill="#dc48ea"/>
<circle cx="180.4" cy="453.24" r="2.85" fill="#dc48ea"/>
<rect x="191.6" y="482.2" width="17.4" height="4.6" fill="#1aa2ee" rx="2.3"/>
<line x1="226.5" y1="434.2" x2="226.5" y2="496.4" stroke="#666" stroke-width="0.9"/>
<path d="M226.5 441.3C226.8 441.83 227.88 443.43 228.3 444.5C228.72 445.57 229 446.62 229 447.7C229 448.78 228.72 449.85 228.3 451C227.88 452.15 226.8 454 226.5 454.6 L226.5 454.6C226.2 454 225.12 452.15 224.7 451C224.28 449.85 224 448.78 224 447.7C224 446.62 224.28 445.57 224.7 444.5C225.12 443.43 226.2 441.83 226.5 441.3Z" fill="#f7eccf" stroke="#666" stroke-width="0.9"/>
<path d="M226.5 469.9C227.08 470.58 228.92 472.65 230 474C231.08 475.35 232.17 476.47 233 478C233.83 479.53 235.17 481.62 235 483.2C234.83 484.78 233.42 485.88 232 487.5C230.58 489.12 227.42 492 226.5 492.9 L226.5 492.9C225.58 492 222.42 489.12 221 487.5C219.58 485.88 218.17 484.78 218 483.2C217.83 481.62 219.17 479.53 220 478C220.83 476.47 221.92 475.35 223 474C224.08 472.65 225.92 470.58 226.5 469.9Z" fill="#f7eccf" stroke="#666" stroke-width="0.9"/>
<line x1="218.2" y1="480.9" x2="234.8" y2="480.9" stroke="#0000f6" stroke-width="0.8"/>
<circle cx="226.5" cy="447.79" r="2.85" fill="#0000f6"/>
<circle cx="222.9" cy="477.82" r="2.85" fill="#0000f6"/>
<circle cx="229.9" cy="477.82" r="2.85" fill="#0000f6"/>
<circle cx="220.2" cy="484.2" r="2.85" fill="#0000f6"/>
<circle cx="226.5" cy="484.2" r="2.85" fill="#0000f6"/>
<circle cx="232.9" cy="484.2" r="2.85" fill="#0000f6"/>
<text x="297.6" y="304.1" font-size="13.2" font-family='"Liberation Serif", serif' fill="#1a1a1a" font-weight="bold" letter-spacing="0.8">(E)</text>
<line x1="334.1" y1="337" x2="334.1" y2="500" stroke="#1a1a1a" stroke-width="1.3"/>
<line x1="334.1" y1="500" x2="529.5" y2="500" stroke="#1a1a1a" stroke-width="1.3"/>
<line x1="329.7" y1="485" x2="334.1" y2="485" stroke="#1a1a1a" stroke-width="1.1"/>
<text x="328.8" y="487.8" font-size="8.1" font-family='"Liberation Serif", serif' fill="#1a1a1a" text-anchor="end" stroke="#1a1a1a" stroke-width="0.12">0</text>
<line x1="329.7" y1="455.4" x2="334.1" y2="455.4" stroke="#1a1a1a" stroke-width="1.1"/>
<text x="328.8" y="458.2" font-size="8.1" font-family='"Liberation Serif", serif' fill="#1a1a1a" text-anchor="end" stroke="#1a1a1a" stroke-width="0.12">20</text>
<line x1="329.7" y1="425.8" x2="334.1" y2="425.8" stroke="#1a1a1a" stroke-width="1.1"/>
<text x="328.8" y="428.6" font-size="8.1" font-family='"Liberation Serif", serif' fill="#1a1a1a" text-anchor="end" stroke="#1a1a1a" stroke-width="0.12">40</text>
<line x1="329.7" y1="396.2" x2="334.1" y2="396.2" stroke="#1a1a1a" stroke-width="1.1"/>
<text x="328.8" y="399" font-size="8.1" font-family='"Liberation Serif", serif' fill="#1a1a1a" text-anchor="end" stroke="#1a1a1a" stroke-width="0.12">60</text>
<line x1="329.7" y1="366.6" x2="334.1" y2="366.6" stroke="#1a1a1a" stroke-width="1.1"/>
<text x="328.8" y="369.4" font-size="8.1" font-family='"Liberation Serif", serif' fill="#1a1a1a" text-anchor="end" stroke="#1a1a1a" stroke-width="0.12">80</text>
<line x1="329.7" y1="337" x2="334.1" y2="337" stroke="#1a1a1a" stroke-width="1.1"/>
<text x="328.8" y="339.8" font-size="8.1" font-family='"Liberation Serif", serif' fill="#1a1a1a" text-anchor="end" stroke="#1a1a1a" stroke-width="0.12">100</text>
<line x1="352" y1="500" x2="352" y2="503.8" stroke="#1a1a1a" stroke-width="1.1"/>
<text x="352.3" y="513.6" font-size="8.7" font-family='"Liberation Serif", serif' fill="#1a1a1a" text-anchor="middle" stroke="#1a1a1a" stroke-width="0.12">Day0</text>
<line x1="378.4" y1="500" x2="378.4" y2="503.8" stroke="#1a1a1a" stroke-width="1.1"/>
<text x="378.7" y="513.6" font-size="8.7" font-family='"Liberation Serif", serif' fill="#1a1a1a" text-anchor="middle" stroke="#1a1a1a" stroke-width="0.12">Day7</text>
<line x1="404.9" y1="500" x2="404.9" y2="503.8" stroke="#1a1a1a" stroke-width="1.1"/>
<text x="405.2" y="513.6" font-size="8.7" font-family='"Liberation Serif", serif' fill="#1a1a1a" text-anchor="middle" stroke="#1a1a1a" stroke-width="0.12">Day14</text>
<line x1="431.3" y1="500" x2="431.3" y2="503.8" stroke="#1a1a1a" stroke-width="1.1"/>
<text x="431.6" y="513.6" font-size="8.7" font-family='"Liberation Serif", serif' fill="#1a1a1a" text-anchor="middle" stroke="#1a1a1a" stroke-width="0.12">Day21</text>
<line x1="457.8" y1="500" x2="457.8" y2="503.8" stroke="#1a1a1a" stroke-width="1.1"/>
<text x="458.1" y="513.6" font-size="8.7" font-family='"Liberation Serif", serif' fill="#1a1a1a" text-anchor="middle" stroke="#1a1a1a" stroke-width="0.12">Day29</text>
<line x1="484.4" y1="500" x2="484.4" y2="503.8" stroke="#1a1a1a" stroke-width="1.1"/>
<text x="484.7" y="513.6" font-size="8.7" font-family='"Liberation Serif", serif' fill="#1a1a1a" text-anchor="middle" stroke="#1a1a1a" stroke-width="0.12">Day90</text>
<line x1="510.9" y1="500" x2="510.9" y2="503.8" stroke="#1a1a1a" stroke-width="1.1"/>
<text x="511.2" y="513.6" font-size="8.7" font-family='"Liberation Serif", serif' fill="#1a1a1a" text-anchor="middle" stroke="#1a1a1a" stroke-width="0.12">Day270</text>
<text x="309.8" y="418" font-size="7.8" font-family='"Liberation Serif", serif' fill="#222" text-anchor="middle" transform="rotate(-90 309.8 418)" stroke="#222" stroke-width="0.12">Inhibition of DBS NAbs (%)</text>
<line x1="352.2" y1="338" x2="404.6" y2="338" stroke="#1a1a1a" stroke-width="1.3"/>
<text x="378.4" y="334.3" font-size="7.6" font-family='"Liberation Serif", serif' fill="#222" text-anchor="middle" stroke="#222" stroke-width="0.12">0.0216</text>
<line x1="352.2" y1="322" x2="431.6" y2="322" stroke="#1a1a1a" stroke-width="1.3"/>
<text x="391.8" y="318.5" font-size="7.6" font-family='"Liberation Serif", serif' fill="#222" text-anchor="middle" stroke="#222" stroke-width="0.12">0.0011</text>
<line x1="352.2" y1="306" x2="484.6" y2="306" stroke="#1a1a1a" stroke-width="1.3"/>
<text x="418" y="302.3" font-size="7.6" font-family='"Liberation Serif", serif' fill="#222" text-anchor="middle" stroke="#222" stroke-width="0.12">0.0321</text>
<line x1="352" y1="454" x2="352" y2="494.6" stroke="#111" stroke-width="1.25"/>
<path d="M352 459.2C352.83 459.63 355.67 460.87 357 461.8C358.33 462.73 359.83 463.77 360 464.8C360.17 465.83 358.92 466.88 358 468C357.08 469.12 354.8 470.33 354.5 471.5C354.2 472.67 355.45 473.75 356.2 475C356.95 476.25 358.37 477.53 359 479C359.63 480.47 360.33 482.47 360 483.8C359.67 485.13 358.33 485.9 357 487C355.67 488.1 352.83 489.83 352 490.4 L352 490.4C351.17 489.83 348.33 488.1 347 487C345.67 485.9 344.33 485.13 344 483.8C343.67 482.47 344.37 480.47 345 479C345.63 477.53 347.05 476.25 347.8 475C348.55 473.75 349.8 472.67 349.5 471.5C349.2 470.33 346.92 469.12 346 468C345.08 466.88 343.83 465.83 344 464.8C344.17 463.77 345.67 462.73 347 461.8C348.33 460.87 351.17 459.63 352 459.2Z" fill="#f7eccf" stroke="#111" stroke-width="1.25"/>
<circle cx="346" cy="464.28" r="2.85" fill="#0aeea2"/>
<circle cx="349" cy="463.84" r="2.85" fill="#0aeea2"/>
<circle cx="352" cy="464.28" r="2.85" fill="#0aeea2"/>
<circle cx="355" cy="463.98" r="2.85" fill="#0aeea2"/>
<circle cx="358.5" cy="464.28" r="2.85" fill="#0aeea2"/>
<circle cx="345" cy="466.06" r="2.85" fill="#0aeea2"/>
<circle cx="359" cy="466.06" r="2.85" fill="#0aeea2"/>
<circle cx="347.5" cy="466.8" r="2.85" fill="#0aeea2"/>
<circle cx="351" cy="467.24" r="2.85" fill="#0aeea2"/>
<circle cx="355" cy="466.8" r="2.85" fill="#0aeea2"/>
<circle cx="349" cy="473.9" r="2.85" fill="#0aeea2"/>
<circle cx="352" cy="473.46" r="2.85" fill="#0aeea2"/>
<circle cx="355" cy="473.9" r="2.85" fill="#0aeea2"/>
<circle cx="350.5" cy="476.42" r="2.85" fill="#0aeea2"/>
<circle cx="353.5" cy="476.42" r="2.85" fill="#0aeea2"/>
<circle cx="345.5" cy="483.52" r="2.85" fill="#0aeea2"/>
<circle cx="349" cy="483.22" r="2.85" fill="#0aeea2"/>
<circle cx="352" cy="483.52" r="2.85" fill="#0aeea2"/>
<circle cx="355" cy="483.22" r="2.85" fill="#0aeea2"/>
<circle cx="358.5" cy="483.52" r="2.85" fill="#0aeea2"/>
<circle cx="345" cy="484.7" r="2.85" fill="#0aeea2"/>
<circle cx="359" cy="484.7" r="2.85" fill="#0aeea2"/>
<line x1="378.4" y1="451.6" x2="378.4" y2="492.3" stroke="#111" stroke-width="1.25"/>
<path d="M378.4 456.3C378.98 456.67 380.98 457.72 381.9 458.5C382.82 459.28 383.78 459.63 383.9 461C384.02 462.37 382.02 464.8 382.6 466.7C383.18 468.6 387.27 470.77 387.4 472.4C387.53 474.03 384.9 475.08 383.4 476.5C381.9 477.92 379.23 480.17 378.4 480.9 L378.4 480.9C377.57 480.17 374.9 477.92 373.4 476.5C371.9 475.08 369.27 474.03 369.4 472.4C369.53 470.77 373.62 468.6 374.2 466.7C374.78 464.8 372.78 462.37 372.9 461C373.02 459.63 373.98 459.28 374.9 458.5C375.82 457.72 377.82 456.67 378.4 456.3Z" fill="#f7eccf" stroke="#111" stroke-width="1.25"/>
<circle cx="374.4" cy="461.32" r="2.85" fill="#fc7a7a"/>
<circle cx="377.4" cy="460.58" r="2.85" fill="#fc7a7a"/>
<circle cx="381.4" cy="461.32" r="2.85" fill="#fc7a7a"/>
<circle cx="384.4" cy="462.06" r="2.85" fill="#fc7a7a"/>
<circle cx="373.4" cy="464.28" r="2.85" fill="#fc7a7a"/>
<circle cx="383.4" cy="464.58" r="2.85" fill="#fc7a7a"/>
<circle cx="376.4" cy="467.24" r="2.85" fill="#fc7a7a"/>
<circle cx="380.4" cy="466.8" r="2.85" fill="#fc7a7a"/>
<circle cx="372.4" cy="470.2" r="2.85" fill="#fc7a7a"/>
<circle cx="375.4" cy="469.76" r="2.85" fill="#fc7a7a"/>
<circle cx="378.4" cy="470.2" r="2.85" fill="#fc7a7a"/>
<circle cx="381.4" cy="469.9" r="2.85" fill="#fc7a7a"/>
<circle cx="384.9" cy="470.2" r="2.85" fill="#fc7a7a"/>
<circle cx="371.4" cy="473.16" r="2.85" fill="#fc7a7a"/>
<circle cx="374.4" cy="472.86" r="2.85" fill="#fc7a7a"/>
<circle cx="378.4" cy="473.16" r="2.85" fill="#fc7a7a"/>
<circle cx="382.4" cy="472.72" r="2.85" fill="#fc7a7a"/>
<circle cx="385.4" cy="473.16" r="2.85" fill="#fc7a7a"/>
<circle cx="375.4" cy="476.12" r="2.85" fill="#fc7a7a"/>
<circle cx="380.4" cy="476.12" r="2.85" fill="#fc7a7a"/>
<circle cx="378.4" cy="479.08" r="2.85" fill="#fc7a7a"/>
<circle cx="378.4" cy="485" r="2.85" fill="#fc7a7a"/>
<line x1="404.9" y1="408.1" x2="404.9" y2="496.3" stroke="#111" stroke-width="1.25"/>
<path d="M404.9 414C405.07 414.6 405.63 416.43 405.9 417.6C406.17 418.77 406.3 419.95 406.5 421C406.7 422.05 407.1 422.9 407.1 423.9C407.1 424.9 406.7 425.65 406.5 427C406.3 428.35 406 430.42 405.9 432C405.8 433.58 405.73 435.17 405.9 436.5C406.07 437.83 406.65 438.75 406.9 440C407.15 441.25 407.23 442.5 407.4 444C407.57 445.5 407.57 447.1 407.9 449C408.23 450.9 408.82 453.07 409.4 455.4C409.98 457.73 410.73 460.07 411.4 463C412.07 465.93 413.57 470.33 413.4 473C413.23 475.67 411.82 476.68 410.4 479C408.98 481.32 405.82 485.58 404.9 486.9 L404.9 486.9C403.98 485.58 400.82 481.32 399.4 479C397.98 476.68 396.57 475.67 396.4 473C396.23 470.33 397.73 465.93 398.4 463C399.07 460.07 399.82 457.73 400.4 455.4C400.98 453.07 401.57 450.9 401.9 449C402.23 447.1 402.23 445.5 402.4 444C402.57 442.5 402.65 441.25 402.9 440C403.15 438.75 403.73 437.83 403.9 436.5C404.07 435.17 404 433.58 403.9 432C403.8 430.42 403.5 428.35 403.3 427C403.1 425.65 402.7 424.9 402.7 423.9C402.7 422.9 403.1 422.05 403.3 421C403.5 419.95 403.63 418.77 403.9 417.6C404.17 416.43 404.73 414.6 404.9 414Z" fill="#f7eccf" stroke="#111" stroke-width="1.25"/>
<circle cx="404.9" cy="424.32" r="2.85" fill="#ff9c1c"/>
<circle cx="404.9" cy="444.3" r="2.85" fill="#ff9c1c"/>
<circle cx="402.6" cy="453.77" r="2.85" fill="#ff9c1c"/>
<circle cx="407" cy="456.14" r="2.85" fill="#ff9c1c"/>
<circle cx="402.9" cy="460.43" r="2.85" fill="#ff9c1c"/>
<circle cx="407" cy="466.8" r="2.85" fill="#ff9c1c"/>
<circle cx="398.2" cy="470.64" r="2.85" fill="#ff9c1c"/>
<circle cx="401.9" cy="472.42" r="2.85" fill="#ff9c1c"/>
<circle cx="405.9" cy="471.68" r="2.85" fill="#ff9c1c"/>
<circle cx="410.4" cy="470.2" r="2.85" fill="#ff9c1c"/>
<circle cx="411.4" cy="476.12" r="2.85" fill="#ff9c1c"/>
<circle cx="398.4" cy="476.12" r="2.85" fill="#ff9c1c"/>
<circle cx="402.9" cy="477.6" r="2.85" fill="#ff9c1c"/>
<circle cx="407.9" cy="479.08" r="2.85" fill="#ff9c1c"/>
<circle cx="401.4" cy="482.04" r="2.85" fill="#ff9c1c"/>
<circle cx="405.9" cy="481.3" r="2.85" fill="#ff9c1c"/>
<circle cx="404.9" cy="474.64" r="2.85" fill="#ff9c1c"/>
<line x1="431.3" y1="439" x2="431.3" y2="485.6" stroke="#111" stroke-width="1.25"/>
<path d="M431.3 443C432.05 443.67 434.47 445.57 435.8 447C437.13 448.43 438.63 449.43 439.3 451.6C439.97 453.77 439.8 457.27 439.8 460C439.8 462.73 439.97 465.83 439.3 468C438.63 470.17 437.13 471.33 435.8 473C434.47 474.67 432.05 477.17 431.3 478 L431.3 478C430.55 477.17 428.13 474.67 426.8 473C425.47 471.33 423.97 470.17 423.3 468C422.63 465.83 422.8 462.73 422.8 460C422.8 457.27 422.63 453.77 423.3 451.6C423.97 449.43 425.47 448.43 426.8 447C428.13 445.57 430.55 443.67 431.3 443Z" fill="#f7eccf" stroke="#111" stroke-width="1.25"/>
<circle cx="427.3" cy="446.52" r="2.85" fill="#14f014"/>
<circle cx="433.8" cy="445.78" r="2.85" fill="#14f014"/>
<circle cx="424.3" cy="449.48" r="2.85" fill="#14f014"/>
<circle cx="437.8" cy="450.22" r="2.85" fill="#14f014"/>
<circle cx="428.3" cy="453.92" r="2.85" fill="#14f014"/>
<circle cx="434.3" cy="454.66" r="2.85" fill="#14f014"/>
<circle cx="424.3" cy="457.62" r="2.85" fill="#14f014"/>
<circle cx="431.3" cy="458.36" r="2.85" fill="#14f014"/>
<circle cx="438.3" cy="457.62" r="2.85" fill="#14f014"/>
<circle cx="427.3" cy="461.32" r="2.85" fill="#14f014"/>
<circle cx="435.3" cy="462.06" r="2.85" fill="#14f014"/>
<circle cx="424.3" cy="465.76" r="2.85" fill="#14f014"/>
<circle cx="431.3" cy="465.02" r="2.85" fill="#14f014"/>
<circle cx="437.8" cy="465.76" r="2.85" fill="#14f014"/>
<circle cx="428.3" cy="468.72" r="2.85" fill="#14f014"/>
<circle cx="434.3" cy="469.46" r="2.85" fill="#14f014"/>
<circle cx="437.8" cy="471.68" r="2.85" fill="#14f014"/>
<circle cx="431.3" cy="476.12" r="2.85" fill="#14f014"/>
<line x1="457.8" y1="435.8" x2="457.8" y2="487.5" stroke="#111" stroke-width="1.25"/>
<path d="M457.8 440C458.13 440.5 459.3 442 459.8 443C460.3 444 460.8 444.83 460.8 446C460.8 447.17 460.13 448.18 459.8 450C459.47 451.82 458.8 455.32 458.8 456.9C458.8 458.48 459.47 458.65 459.8 459.5C460.13 460.35 460.13 460.75 460.8 462C461.47 463.25 462.88 465.3 463.8 467C464.72 468.7 466.47 470.53 466.3 472.2C466.13 473.87 464.22 475.43 462.8 477C461.38 478.57 458.63 480.83 457.8 481.6 L457.8 481.6C456.97 480.83 454.22 478.57 452.8 477C451.38 475.43 449.47 473.87 449.3 472.2C449.13 470.53 450.88 468.7 451.8 467C452.72 465.3 454.13 463.25 454.8 462C455.47 460.75 455.47 460.35 455.8 459.5C456.13 458.65 456.8 458.48 456.8 456.9C456.8 455.32 456.13 451.82 455.8 450C455.47 448.18 454.8 447.17 454.8 446C454.8 444.83 455.3 444 455.8 443C456.3 442 457.47 440.5 457.8 440Z" fill="#f7eccf" stroke="#111" stroke-width="1.25"/>
<circle cx="457.8" cy="444.3" r="2.85" fill="#dc48ea"/>
<circle cx="456.3" cy="446.52" r="2.85" fill="#dc48ea"/>
<circle cx="458.8" cy="448.74" r="2.85" fill="#dc48ea"/>
<circle cx="457.8" cy="451.55" r="2.85" fill="#dc48ea"/>
<circle cx="456.8" cy="462.21" r="2.85" fill="#dc48ea"/>
<circle cx="459.3" cy="462.21" r="2.85" fill="#dc48ea"/>
<circle cx="454.3" cy="469.46" r="2.85" fill="#dc48ea"/>
<circle cx="457.8" cy="470.2" r="2.85" fill="#dc48ea"/>
<circle cx="461.8" cy="470.2" r="2.85" fill="#dc48ea"/>
<circle cx="463.8" cy="470.94" r="2.85" fill="#dc48ea"/>
<circle cx="451.3" cy="473.75" r="2.85" fill="#dc48ea"/>
<circle cx="455.8" cy="473.75" r="2.85" fill="#dc48ea"/>
<circle cx="460.3" cy="473.75" r="2.85" fill="#dc48ea"/>
<circle cx="463.8" cy="473.75" r="2.85" fill="#dc48ea"/>
<circle cx="452.8" cy="476.12" r="2.85" fill="#dc48ea"/>
<circle cx="461.3" cy="476.86" r="2.85" fill="#dc48ea"/>
<rect x="476" y="482.6" width="17.5" height="4.8" fill="#1aa2ee" rx="2.4"/>
<line x1="510.9" y1="435.8" x2="510.9" y2="494.7" stroke="#666" stroke-width="0.9"/>
<path d="M510.9 478C511.57 478.5 513.48 479.83 514.9 481C516.32 482.17 519.23 483.83 519.4 485C519.57 486.17 517.32 487 515.9 488C514.48 489 511.73 490.5 510.9 491 L510.9 491C510.07 490.5 507.32 489 505.9 488C504.48 487 502.23 486.17 502.4 485C502.57 483.83 505.48 482.17 506.9 481C508.32 479.83 510.23 478.5 510.9 478Z" fill="#f7eccf" stroke="#666" stroke-width="0.9"/>
<circle cx="510.9" cy="445.63" r="2.6" fill="#0000f6"/>
<rect x="502.2" y="482.6" width="17.4" height="4.8" fill="#0000f6" rx="2.4"/>
<text x="7.1" y="533.1" font-size="13.2" font-family='"Liberation Serif", serif' fill="#1a1a1a" font-weight="bold" letter-spacing="0.8">(F)</text>
<rect x="52.2" y="538.3" width="199.8" height="187.6" fill="none" stroke="#1a1a1a" stroke-width="1.3"/>
<line x1="49" y1="725.9" x2="52.2" y2="725.9" stroke="#1a1a1a" stroke-width="1.1"/>
<text x="47" y="728.6" font-size="7.9" font-family='"Liberation Serif", serif' fill="#1a1a1a" text-anchor="end" stroke="#1a1a1a" stroke-width="0.12">0</text>
<line x1="52.2" y1="725.9" x2="52.2" y2="729.3" stroke="#1a1a1a" stroke-width="1.1"/>
<text x="52.2" y="737.8" font-size="7.9" font-family='"Liberation Serif", serif' fill="#1a1a1a" text-anchor="middle" stroke="#1a1a1a" stroke-width="0.12">0</text>
<line x1="49" y1="688.38" x2="52.2" y2="688.38" stroke="#1a1a1a" stroke-width="1.1"/>
<text x="47" y="691.08" font-size="7.9" font-family='"Liberation Serif", serif' fill="#1a1a1a" text-anchor="end" stroke="#1a1a1a" stroke-width="0.12">20</text>
<line x1="92.16" y1="725.9" x2="92.16" y2="729.3" stroke="#1a1a1a" stroke-width="1.1"/>
<text x="92.16" y="737.8" font-size="7.9" font-family='"Liberation Serif", serif' fill="#1a1a1a" text-anchor="middle" stroke="#1a1a1a" stroke-width="0.12">20</text>
<line x1="49" y1="650.86" x2="52.2" y2="650.86" stroke="#1a1a1a" stroke-width="1.1"/>
<text x="47" y="653.56" font-size="7.9" font-family='"Liberation Serif", serif' fill="#1a1a1a" text-anchor="end" stroke="#1a1a1a" stroke-width="0.12">40</text>
<line x1="132.12" y1="725.9" x2="132.12" y2="729.3" stroke="#1a1a1a" stroke-width="1.1"/>
<text x="132.12" y="737.8" font-size="7.9" font-family='"Liberation Serif", serif' fill="#1a1a1a" text-anchor="middle" stroke="#1a1a1a" stroke-width="0.12">40</text>
<line x1="49" y1="613.34" x2="52.2" y2="613.34" stroke="#1a1a1a" stroke-width="1.1"/>
<text x="47" y="616.04" font-size="7.9" font-family='"Liberation Serif", serif' fill="#1a1a1a" text-anchor="end" stroke="#1a1a1a" stroke-width="0.12">60</text>
<line x1="172.08" y1="725.9" x2="172.08" y2="729.3" stroke="#1a1a1a" stroke-width="1.1"/>
<text x="172.08" y="737.8" font-size="7.9" font-family='"Liberation Serif", serif' fill="#1a1a1a" text-anchor="middle" stroke="#1a1a1a" stroke-width="0.12">60</text>
<line x1="49" y1="575.82" x2="52.2" y2="575.82" stroke="#1a1a1a" stroke-width="1.1"/>
<text x="47" y="578.52" font-size="7.9" font-family='"Liberation Serif", serif' fill="#1a1a1a" text-anchor="end" stroke="#1a1a1a" stroke-width="0.12">80</text>
<line x1="212.04" y1="725.9" x2="212.04" y2="729.3" stroke="#1a1a1a" stroke-width="1.1"/>
<text x="212.04" y="737.8" font-size="7.9" font-family='"Liberation Serif", serif' fill="#1a1a1a" text-anchor="middle" stroke="#1a1a1a" stroke-width="0.12">80</text>
<line x1="49" y1="538.3" x2="52.2" y2="538.3" stroke="#1a1a1a" stroke-width="1.1"/>
<text x="47" y="541" font-size="7.9" font-family='"Liberation Serif", serif' fill="#1a1a1a" text-anchor="end" stroke="#1a1a1a" stroke-width="0.12">100</text>
<line x1="252" y1="725.9" x2="252" y2="729.3" stroke="#1a1a1a" stroke-width="1.1"/>
<text x="252" y="737.8" font-size="7.9" font-family='"Liberation Serif", serif' fill="#1a1a1a" text-anchor="middle" stroke="#1a1a1a" stroke-width="0.12">100</text>
<text x="158.6" y="750.2" font-size="9.1" font-family='"Liberation Serif", serif' fill="#222" text-anchor="middle" stroke="#222" stroke-width="0.12">Sera NAbs</text>
<text x="31.4" y="627" font-size="8" font-family='"Liberation Serif", serif' fill="#222" text-anchor="middle" transform="rotate(-90 31.4 627)" stroke="#222" stroke-width="0.12">DBS NAbs (red)/DBS-converted sera NAbs (green)</text>
<line x1="52.2" y1="725.9" x2="252" y2="538.3" stroke="#c4c4c4" stroke-width="0.9"/>
<circle cx="98.7" cy="675.9" r="1.9" fill="#fb7d0a"/>
<circle cx="98" cy="694.8" r="1.9" fill="#fb7d0a"/>
<circle cx="100.9" cy="699.9" r="1.9" fill="#fb7d0a"/>
<circle cx="96.5" cy="701.4" r="1.9" fill="#fb7d0a"/>
<circle cx="81.3" cy="704.3" r="1.9" fill="#fb7d0a"/>
<circle cx="85.6" cy="702.8" r="1.9" fill="#fb7d0a"/>
<circle cx="93.6" cy="703.5" r="1.9" fill="#fb7d0a"/>
<circle cx="108.2" cy="699.2" r="1.9" fill="#fb7d0a"/>
<circle cx="109.6" cy="697" r="1.9" fill="#fb7d0a"/>
<circle cx="116.2" cy="696.3" r="1.9" fill="#fb7d0a"/>
<circle cx="121.3" cy="704.3" r="1.9" fill="#fb7d0a"/>
<circle cx="125.6" cy="702.1" r="1.9" fill="#fb7d0a"/>
<circle cx="129.3" cy="701.4" r="1.9" fill="#fb7d0a"/>
<circle cx="100.9" cy="705.7" r="1.9" fill="#fb7d0a"/>
<circle cx="103.1" cy="707.9" r="1.9" fill="#fb7d0a"/>
<circle cx="107.5" cy="708.6" r="1.9" fill="#fb7d0a"/>
<circle cx="111.1" cy="708.6" r="1.9" fill="#fb7d0a"/>
<circle cx="112.5" cy="711.5" r="1.9" fill="#fb7d0a"/>
<circle cx="101.6" cy="711.5" r="1.9" fill="#fb7d0a"/>
<circle cx="105.3" cy="712.3" r="1.9" fill="#fb7d0a"/>
<circle cx="84.2" cy="708.6" r="1.9" fill="#fb7d0a"/>
<circle cx="87.1" cy="710.1" r="1.9" fill="#fb7d0a"/>
<circle cx="89.3" cy="711.5" r="1.9" fill="#fb7d0a"/>
<circle cx="93.6" cy="710.1" r="1.9" fill="#fb7d0a"/>
<circle cx="95.8" cy="712.3" r="1.9" fill="#fb7d0a"/>
<circle cx="79.1" cy="710.1" r="1.9" fill="#fb7d0a"/>
<circle cx="76.9" cy="713.7" r="1.9" fill="#fb7d0a"/>
<circle cx="80.5" cy="713.7" r="1.9" fill="#fb7d0a"/>
<circle cx="84.9" cy="714.5" r="1.9" fill="#fb7d0a"/>
<circle cx="87.8" cy="715.9" r="1.9" fill="#fb7d0a"/>
<circle cx="92.2" cy="715.2" r="1.9" fill="#fb7d0a"/>
<circle cx="73.3" cy="715.2" r="1.9" fill="#fb7d0a"/>
<circle cx="75.5" cy="716.6" r="1.9" fill="#fb7d0a"/>
<circle cx="69.6" cy="718.8" r="1.9" fill="#fb7d0a"/>
<circle cx="71.8" cy="719.5" r="1.9" fill="#fb7d0a"/>
<circle cx="68.9" cy="720.3" r="1.9" fill="#fb7d0a"/>
<circle cx="66" cy="720.3" r="1.9" fill="#fb7d0a"/>
<circle cx="63.8" cy="721" r="1.9" fill="#fb7d0a"/>
<circle cx="85.6" cy="716.6" r="1.9" fill="#fb7d0a"/>
<circle cx="90" cy="716.6" r="1.9" fill="#fb7d0a"/>
<circle cx="199.2" cy="648.7" r="1.9" fill="#fb7d0a"/>
<circle cx="167.2" cy="674.2" r="1.9" fill="#fb7d0a"/>
<circle cx="172.3" cy="676.4" r="1.9" fill="#fb7d0a"/>
<circle cx="157.7" cy="678.5" r="1.9" fill="#fb7d0a"/>
<circle cx="159.2" cy="678.1" r="1.9" fill="#fb7d0a"/>
<circle cx="169.4" cy="681.7" r="1.9" fill="#fb7d0a"/>
<circle cx="138.8" cy="684.4" r="1.9" fill="#fb7d0a"/>
<circle cx="137.8" cy="687.3" r="1.9" fill="#fb7d0a"/>
<circle cx="151.6" cy="683.3" r="1.9" fill="#fb7d0a"/>
<circle cx="156" cy="686.3" r="1.9" fill="#fb7d0a"/>
<circle cx="151.9" cy="689.5" r="1.9" fill="#fb7d0a"/>
<circle cx="158.2" cy="692.4" r="1.9" fill="#fb7d0a"/>
<circle cx="135.9" cy="693.1" r="1.9" fill="#fb7d0a"/>
<circle cx="127.2" cy="694.5" r="1.9" fill="#fb7d0a"/>
<circle cx="145.8" cy="697" r="1.9" fill="#fb7d0a"/>
<circle cx="127.9" cy="701.8" r="1.9" fill="#fb7d0a"/>
<circle cx="132.3" cy="704" r="1.9" fill="#fb7d0a"/>
<circle cx="69.2" cy="718.9" r="1.9" fill="#fb7d0a"/>
<circle cx="72.4" cy="716.7" r="1.9" fill="#fb7d0a"/>
<circle cx="75.2" cy="715.6" r="1.9" fill="#fb7d0a"/>
<circle cx="78.4" cy="713.8" r="1.9" fill="#fb7d0a"/>
<circle cx="81.7" cy="704.2" r="1.9" fill="#fb7d0a"/>
<circle cx="83.9" cy="710.2" r="1.9" fill="#fb7d0a"/>
<circle cx="86.1" cy="711.8" r="1.9" fill="#fb7d0a"/>
<circle cx="86.6" cy="716.2" r="1.9" fill="#fb7d0a"/>
<circle cx="88.8" cy="712.4" r="1.9" fill="#fb7d0a"/>
<circle cx="91" cy="716.2" r="1.9" fill="#fb7d0a"/>
<circle cx="92.6" cy="714" r="1.9" fill="#fb7d0a"/>
<circle cx="94.3" cy="711.3" r="1.9" fill="#fb7d0a"/>
<circle cx="95.3" cy="704.7" r="1.9" fill="#fb7d0a"/>
<circle cx="97" cy="700.9" r="1.9" fill="#fb7d0a"/>
<circle cx="100.8" cy="706.4" r="1.9" fill="#fb7d0a"/>
<circle cx="103" cy="712.4" r="1.9" fill="#fb7d0a"/>
<circle cx="105.7" cy="710.7" r="1.9" fill="#fb7d0a"/>
<circle cx="108.4" cy="698.7" r="1.9" fill="#fb7d0a"/>
<circle cx="110.6" cy="711.8" r="1.9" fill="#fb7d0a"/>
<circle cx="111.7" cy="708.5" r="1.9" fill="#fb7d0a"/>
<circle cx="106.8" cy="700.4" r="1.9" fill="#fb7d0a"/>
<circle cx="65.9" cy="720" r="1.9" fill="#fb7d0a"/>
<circle cx="70.3" cy="720.5" r="1.9" fill="#fb7d0a"/>
<circle cx="60.5" cy="722.3" r="1.9" fill="#fb7d0a"/>
<path d="M52.2 722.69 L55.87 721.32 L59.54 719.96 L63.21 718.58 L66.89 717.21 L70.56 715.83 L74.23 714.45 L77.9 713.07 L81.57 711.68 L85.24 710.28 L88.91 708.87 L92.58 707.46 L96.26 706.03 L99.93 704.59 L103.6 703.13 L107.27 701.65 L110.94 700.16 L114.61 698.65 L118.28 697.12 L121.96 695.57 L125.63 694.02 L129.3 692.45 L132.97 690.87 L136.64 689.29 L140.31 687.7 L143.98 686.1 L147.65 684.5 L151.33 682.9 L155 681.29 L158.67 679.69 L162.34 678.07 L166.01 676.46 L169.68 674.85 L173.35 673.23 L177.03 671.62 L180.7 670 L184.37 668.38 L188.04 666.76 L191.71 665.14 L195.38 663.52 L199.05 661.9 L199.05 669.04 L195.38 670.4 L191.71 671.76 L188.04 673.12 L184.37 674.48 L180.7 675.84 L177.03 677.2 L173.35 678.56 L169.68 679.92 L166.01 681.29 L162.34 682.65 L158.67 684.02 L155 685.39 L151.33 686.76 L147.65 688.14 L143.98 689.52 L140.31 690.9 L136.64 692.29 L132.97 693.68 L129.3 695.08 L125.63 696.49 L121.96 697.92 L118.28 699.35 L114.61 700.8 L110.94 702.27 L107.27 703.75 L103.6 705.25 L99.93 706.77 L96.26 708.31 L92.58 709.86 L88.91 711.42 L85.24 712.99 L81.57 714.57 L77.9 716.16 L74.23 717.75 L70.56 719.35 L66.89 720.95 L63.21 722.56 L59.54 724.17 L55.87 725.78 L52.2 727.39Z" fill="#c9c9c9" stroke="#a8a8a8" stroke-width="0.5"/>
<path d="M52.2 725.04 L199.05 665.47" fill="none" stroke="#fb7d0a" stroke-width="1.5"/>
<circle cx="99" cy="612.8" r="2" fill="#08f808"/>
<circle cx="108.9" cy="638.5" r="2" fill="#08f808"/>
<circle cx="97.7" cy="656" r="2" fill="#08f808"/>
<circle cx="114" cy="655.3" r="2" fill="#08f808"/>
<circle cx="116.2" cy="658.2" r="2" fill="#08f808"/>
<circle cx="116.9" cy="661.1" r="2" fill="#08f808"/>
<circle cx="94.4" cy="664" r="2" fill="#08f808"/>
<circle cx="108.9" cy="661.8" r="2" fill="#08f808"/>
<circle cx="107.5" cy="665.5" r="2" fill="#08f808"/>
<circle cx="100.6" cy="667.3" r="2" fill="#08f808"/>
<circle cx="81.3" cy="669.1" r="2" fill="#08f808"/>
<circle cx="92.2" cy="669.1" r="2" fill="#08f808"/>
<circle cx="97.7" cy="672" r="2" fill="#08f808"/>
<circle cx="108.2" cy="670.5" r="2" fill="#08f808"/>
<circle cx="90.7" cy="674.2" r="2" fill="#08f808"/>
<circle cx="81.7" cy="678.1" r="2" fill="#08f808"/>
<circle cx="86.7" cy="679.8" r="2" fill="#08f808"/>
<circle cx="95.4" cy="678.8" r="2" fill="#08f808"/>
<circle cx="125.6" cy="673.6" r="2" fill="#08f808"/>
<circle cx="128.5" cy="672.5" r="2" fill="#08f808"/>
<circle cx="121.3" cy="678.7" r="2" fill="#08f808"/>
<circle cx="127" cy="653.8" r="2" fill="#08f808"/>
<circle cx="91.2" cy="683.2" r="2" fill="#08f808"/>
<circle cx="90" cy="685.4" r="2" fill="#08f808"/>
<circle cx="93.6" cy="686.1" r="2" fill="#08f808"/>
<circle cx="100.9" cy="682.5" r="2" fill="#08f808"/>
<circle cx="102.4" cy="683.2" r="2" fill="#08f808"/>
<circle cx="104.5" cy="686.8" r="2" fill="#08f808"/>
<circle cx="108.9" cy="687.5" r="2" fill="#08f808"/>
<circle cx="112.5" cy="688.3" r="2" fill="#08f808"/>
<circle cx="100.9" cy="689.4" r="2" fill="#08f808"/>
<circle cx="83.7" cy="690.9" r="2" fill="#08f808"/>
<circle cx="84.9" cy="694.8" r="2" fill="#08f808"/>
<circle cx="88.1" cy="696.3" r="2" fill="#08f808"/>
<circle cx="95.1" cy="692.6" r="2" fill="#08f808"/>
<circle cx="114" cy="692.6" r="2" fill="#08f808"/>
<circle cx="67.2" cy="696.3" r="2" fill="#08f808"/>
<circle cx="66.3" cy="700.6" r="2" fill="#08f808"/>
<circle cx="78.4" cy="699.9" r="2" fill="#08f808"/>
<circle cx="85.6" cy="699.2" r="2" fill="#08f808"/>
<circle cx="93.6" cy="697.7" r="2" fill="#08f808"/>
<circle cx="92.2" cy="699.9" r="2" fill="#08f808"/>
<circle cx="103.1" cy="697" r="2" fill="#08f808"/>
<circle cx="106.7" cy="694.8" r="2" fill="#08f808"/>
<circle cx="111.1" cy="696.3" r="2" fill="#08f808"/>
<circle cx="74" cy="704.3" r="2" fill="#08f808"/>
<circle cx="73.3" cy="706.5" r="2" fill="#08f808"/>
<circle cx="87.1" cy="705.7" r="2" fill="#08f808"/>
<circle cx="91.5" cy="707.2" r="2" fill="#08f808"/>
<circle cx="62.4" cy="708.9" r="2" fill="#08f808"/>
<circle cx="69.6" cy="713" r="2" fill="#08f808"/>
<circle cx="63.8" cy="723.2" r="2" fill="#08f808"/>
<circle cx="52.4" cy="725.6" r="2" fill="#08f808"/>
<circle cx="167.2" cy="608.1" r="2" fill="#08f808"/>
<circle cx="172.3" cy="613.2" r="2" fill="#08f808"/>
<circle cx="157.7" cy="619" r="2" fill="#08f808"/>
<circle cx="159.2" cy="618" r="2" fill="#08f808"/>
<circle cx="169.4" cy="624.8" r="2" fill="#08f808"/>
<circle cx="138.4" cy="631.7" r="2" fill="#08f808"/>
<circle cx="151.2" cy="629.2" r="2" fill="#08f808"/>
<circle cx="137.8" cy="638.3" r="2" fill="#08f808"/>
<circle cx="155.8" cy="635" r="2" fill="#08f808"/>
<circle cx="151.9" cy="643.7" r="2" fill="#08f808"/>
<circle cx="158.2" cy="650.8" r="2" fill="#08f808"/>
<circle cx="135.9" cy="652.2" r="2" fill="#08f808"/>
<circle cx="127.2" cy="654.2" r="2" fill="#08f808"/>
<circle cx="145.8" cy="660.9" r="2" fill="#08f808"/>
<circle cx="132.3" cy="679.6" r="2" fill="#08f808"/>
<circle cx="199.3" cy="549.5" r="2" fill="#08f808"/>
<path d="M52.2 719.69 L55.87 716.62 L59.54 713.54 L63.21 710.46 L66.89 707.38 L70.56 704.29 L74.23 701.19 L77.9 698.08 L81.57 694.96 L85.24 691.83 L88.91 688.67 L92.58 685.48 L96.26 682.26 L99.93 678.98 L103.6 675.64 L107.27 672.24 L110.94 668.77 L114.61 665.25 L118.28 661.68 L121.96 658.08 L125.63 654.46 L129.3 650.82 L132.97 647.17 L136.64 643.5 L140.31 639.83 L143.98 636.15 L147.65 632.47 L151.33 628.79 L155 625.1 L158.67 621.41 L162.34 617.72 L166.01 614.02 L169.68 610.33 L173.35 606.63 L177.03 602.93 L180.7 599.23 L184.37 595.53 L188.04 591.83 L191.71 588.13 L195.38 584.43 L199.05 580.72 L199.05 597.91 L195.38 600.97 L191.71 604.04 L188.04 607.1 L184.37 610.16 L180.7 613.22 L177.03 616.29 L173.35 619.35 L169.68 622.42 L166.01 625.49 L162.34 628.55 L158.67 631.63 L155 634.7 L151.33 637.77 L147.65 640.85 L143.98 643.93 L140.31 647.02 L136.64 650.11 L132.97 653.21 L129.3 656.32 L125.63 659.44 L121.96 662.59 L118.28 665.75 L114.61 668.95 L110.94 672.19 L107.27 675.48 L103.6 678.84 L99.93 682.27 L96.26 685.75 L92.58 689.29 L88.91 692.87 L85.24 696.47 L81.57 700.1 L77.9 703.74 L74.23 707.4 L70.56 711.07 L66.89 714.74 L63.21 718.42 L59.54 722.1 L55.87 725.79 L52.2 729.48Z" fill="#c9c9c9" stroke="#a8a8a8" stroke-width="0.5"/>
<path d="M52.2 724.58 L199.05 589.32" fill="none" stroke="#08f808" stroke-width="1.5"/>
<text x="54.4" y="545.3" font-size="7.48" font-family='"Liberation Serif", serif' fill="#222" stroke="#222" stroke-width="0.12"><tspan fill="#222" stroke="#222">DBS-converted sera vs original sera WT-NAbs (</tspan><tspan fill="#22d022" stroke="#22d022">in green</tspan><tspan fill="#222" stroke="#222">):</tspan></text>
<text x="54.4" y="552.8" font-size="7.6" font-family='"Liberation Serif", serif' fill="#222" stroke="#222" stroke-width="0.12">Pearson  r: 0.917, p &lt;0.0001</text>
<text x="54.4" y="560.5" font-size="7.6" font-family='"Liberation Serif", serif' fill="#222" stroke="#222" stroke-width="0.12">Y = 0.981*X + 0.701</text>
<text x="54.4" y="576.5" font-size="7.48" font-family='"Liberation Serif", serif' fill="#222" stroke="#222" stroke-width="0.12"><tspan fill="#222" stroke="#222">DBS WT-NAbs vs Sera WT-NAbs (</tspan><tspan fill="#f59030" stroke="#f59030">in orange</tspan><tspan fill="#222" stroke="#222">):</tspan></text>
<text x="54.4" y="584.3" font-size="7.6" font-family='"Liberation Serif", serif' fill="#222" stroke="#222" stroke-width="0.12">Pearson r = 0.919, p &lt;0.0001</text>
<text x="54.4" y="591.9" font-size="7.6" font-family='"Liberation Serif", serif' fill="#222" stroke="#222" stroke-width="0.12">Y = 0.432*X + 0.459</text>
<text x="250.2" y="715" font-size="7.3" font-family='"Liberation Serif", serif' fill="#222" text-anchor="end" stroke="#222" stroke-width="0.12">dashed line: Y = X</text>
<text x="250.2" y="723" font-size="7.3" font-family='"Liberation Serif", serif' fill="#222" text-anchor="end" stroke="#222" stroke-width="0.12">Grey area: within  95% confidence bonds</text>
<text x="297.3" y="532.9" font-size="13.2" font-family='"Liberation Serif", serif' fill="#1a1a1a" font-weight="bold" letter-spacing="0.8">(G)</text>
<rect x="332.1" y="537.5" width="207.4" height="189.2" fill="none" stroke="#1a1a1a" stroke-width="1.3"/>
<line x1="328.6" y1="556.56" x2="332.1" y2="556.56" stroke="#1a1a1a" stroke-width="1.1"/>
<text x="326.5" y="559.36" font-size="8.1" font-family='"Liberation Serif", serif' fill="#1a1a1a" text-anchor="end" stroke="#1a1a1a" stroke-width="0.12">120</text>
<line x1="328.6" y1="581.84" x2="332.1" y2="581.84" stroke="#1a1a1a" stroke-width="1.1"/>
<text x="326.5" y="584.64" font-size="8.1" font-family='"Liberation Serif", serif' fill="#1a1a1a" text-anchor="end" stroke="#1a1a1a" stroke-width="0.12">80</text>
<line x1="328.6" y1="607.12" x2="332.1" y2="607.12" stroke="#1a1a1a" stroke-width="1.1"/>
<text x="326.5" y="609.92" font-size="8.1" font-family='"Liberation Serif", serif' fill="#1a1a1a" text-anchor="end" stroke="#1a1a1a" stroke-width="0.12">40</text>
<line x1="328.6" y1="632.4" x2="332.1" y2="632.4" stroke="#1a1a1a" stroke-width="1.1"/>
<text x="326.5" y="635.2" font-size="8.1" font-family='"Liberation Serif", serif' fill="#1a1a1a" text-anchor="end" stroke="#1a1a1a" stroke-width="0.12">0</text>
<line x1="328.6" y1="657.68" x2="332.1" y2="657.68" stroke="#1a1a1a" stroke-width="1.1"/>
<text x="326.5" y="660.48" font-size="8.1" font-family='"Liberation Serif", serif' fill="#1a1a1a" text-anchor="end" stroke="#1a1a1a" stroke-width="0.12">-40</text>
<line x1="328.6" y1="682.96" x2="332.1" y2="682.96" stroke="#1a1a1a" stroke-width="1.1"/>
<text x="326.5" y="685.76" font-size="8.1" font-family='"Liberation Serif", serif' fill="#1a1a1a" text-anchor="end" stroke="#1a1a1a" stroke-width="0.12">-80</text>
<line x1="328.6" y1="708.24" x2="332.1" y2="708.24" stroke="#1a1a1a" stroke-width="1.1"/>
<text x="326.5" y="711.04" font-size="8.1" font-family='"Liberation Serif", serif' fill="#1a1a1a" text-anchor="end" stroke="#1a1a1a" stroke-width="0.12">-120</text>
<line x1="332.1" y1="613.44" x2="539.5" y2="613.44" stroke="#1a1a1a" stroke-width="1.3"/>
<line x1="332.1" y1="632.4" x2="539.5" y2="632.4" stroke="#1a1a1a" stroke-width="1.3"/>
<line x1="332.1" y1="651.36" x2="539.5" y2="651.36" stroke="#1a1a1a" stroke-width="1.3"/>
<line x1="332.1" y1="587.78" x2="539.5" y2="587.78" stroke="#333" stroke-width="1" stroke-dasharray="1.3 2.5"/>
<line x1="332.1" y1="675.63" x2="539.5" y2="675.63" stroke="#333" stroke-width="1" stroke-dasharray="1.3 2.5"/>
<line x1="363.3" y1="629.8" x2="363.3" y2="632.4" stroke="#1a1a1a" stroke-width="1.1"/>
<text x="363.3" y="642.6" font-size="7.6" font-family='"Liberation Serif", serif' fill="#333" text-anchor="middle" stroke="#333" stroke-width="0.12">15</text>
<line x1="394.5" y1="629.8" x2="394.5" y2="632.4" stroke="#1a1a1a" stroke-width="1.1"/>
<text x="394.5" y="642.6" font-size="7.6" font-family='"Liberation Serif", serif' fill="#333" text-anchor="middle" stroke="#333" stroke-width="0.12">30</text>
<line x1="425.7" y1="629.8" x2="425.7" y2="632.4" stroke="#1a1a1a" stroke-width="1.1"/>
<text x="425.7" y="642.6" font-size="7.6" font-family='"Liberation Serif", serif' fill="#333" text-anchor="middle" stroke="#333" stroke-width="0.12">45</text>
<line x1="456.9" y1="629.8" x2="456.9" y2="632.4" stroke="#1a1a1a" stroke-width="1.1"/>
<text x="456.9" y="642.6" font-size="7.6" font-family='"Liberation Serif", serif' fill="#333" text-anchor="middle" stroke="#333" stroke-width="0.12">60</text>
<line x1="488.1" y1="629.8" x2="488.1" y2="632.4" stroke="#1a1a1a" stroke-width="1.1"/>
<text x="488.1" y="642.6" font-size="7.6" font-family='"Liberation Serif", serif' fill="#333" text-anchor="middle" stroke="#333" stroke-width="0.12">75</text>
<line x1="519.3" y1="629.8" x2="519.3" y2="632.4" stroke="#1a1a1a" stroke-width="1.1"/>
<text x="519.3" y="642.6" font-size="7.6" font-family='"Liberation Serif", serif' fill="#333" text-anchor="middle" stroke="#333" stroke-width="0.12">90</text>
<text x="537.7" y="546.3" font-size="7.8" font-family='"Liberation Serif", serif' fill="#222" text-anchor="end" stroke="#222" stroke-width="0.12">Bland-Altman of DBS-converted sera vs sera WT-NAbs</text>
<text x="537.7" y="553.6" font-size="7.9" font-family='"Liberation Serif", serif' fill="#222" text-anchor="end" stroke="#222" stroke-width="0.12">ICC:  0.915 (95% CI: 0.875 - 0.943; P &lt;0.0001)</text>
<text x="538.4" y="721.5" font-size="7.7" font-family='"Liberation Serif", serif' fill="#222" text-anchor="end" stroke="#222" stroke-width="0.12">dashed line: 95%  Limits of Agreement</text>
<text x="438.4" y="740.4" font-size="9.45" font-family='"Liberation Serif", serif' fill="#222" text-anchor="middle" stroke="#222" stroke-width="0.12">Average Sera WT-NAbs (inhibition %)</text>
<text x="305.4" y="633.9" font-size="8.1" font-family='"Liberation Sans", sans-serif' fill="#222" text-anchor="middle" transform="rotate(-90 305.4 633.9)" stroke="#222" stroke-width="0.12">% Difference</text>
<circle cx="339.6" cy="561" r="2" fill="#08f808"/>
<circle cx="363" cy="593" r="2" fill="#08f808"/>
<circle cx="379" cy="594.4" r="2" fill="#08f808"/>
<circle cx="382" cy="598.4" r="2" fill="#08f808"/>
<circle cx="361" cy="603" r="2" fill="#08f808"/>
<circle cx="374.4" cy="602" r="2" fill="#08f808"/>
<circle cx="377.6" cy="602" r="2" fill="#08f808"/>
<circle cx="399" cy="602" r="2" fill="#08f808"/>
<circle cx="366" cy="605" r="2" fill="#08f808"/>
<circle cx="383.6" cy="606.4" r="2" fill="#08f808"/>
<circle cx="368.6" cy="610" r="2" fill="#08f808"/>
<circle cx="370" cy="611" r="2" fill="#08f808"/>
<circle cx="348" cy="614" r="2" fill="#08f808"/>
<circle cx="382.4" cy="613" r="2" fill="#08f808"/>
<circle cx="394" cy="613" r="2" fill="#08f808"/>
<circle cx="399" cy="614.6" r="2" fill="#08f808"/>
<circle cx="401" cy="613.6" r="2" fill="#08f808"/>
<circle cx="416.4" cy="614" r="2" fill="#08f808"/>
<circle cx="428.4" cy="615" r="2" fill="#08f808"/>
<circle cx="377.6" cy="618.4" r="2" fill="#08f808"/>
<circle cx="380" cy="617.6" r="2" fill="#08f808"/>
<circle cx="373" cy="620.6" r="2" fill="#08f808"/>
<circle cx="363.6" cy="622" r="2" fill="#08f808"/>
<circle cx="367" cy="624.6" r="2" fill="#08f808"/>
<circle cx="381.6" cy="624" r="2" fill="#08f808"/>
<circle cx="381" cy="628" r="2" fill="#08f808"/>
<circle cx="382" cy="626.6" r="2" fill="#08f808"/>
<circle cx="352.4" cy="628" r="2" fill="#08f808"/>
<circle cx="416.4" cy="628" r="2" fill="#08f808"/>
<circle cx="429" cy="624.4" r="2" fill="#08f808"/>
<circle cx="436" cy="628" r="2" fill="#08f808"/>
<circle cx="355" cy="632" r="2" fill="#08f808"/>
<circle cx="366" cy="631.6" r="2" fill="#08f808"/>
<circle cx="360" cy="634.4" r="2" fill="#08f808"/>
<circle cx="410.6" cy="633" r="2" fill="#08f808"/>
<circle cx="437" cy="635" r="2" fill="#08f808"/>
<circle cx="374.4" cy="637.6" r="2" fill="#08f808"/>
<circle cx="375" cy="640.4" r="2" fill="#08f808"/>
<circle cx="376" cy="641.6" r="2" fill="#08f808"/>
<circle cx="368" cy="642.4" r="2" fill="#08f808"/>
<circle cx="380.4" cy="642" r="2" fill="#08f808"/>
<circle cx="392" cy="636" r="2" fill="#08f808"/>
<circle cx="401" cy="637.4" r="2" fill="#08f808"/>
<circle cx="403" cy="639" r="2" fill="#08f808"/>
<circle cx="403" cy="644" r="2" fill="#08f808"/>
<circle cx="396" cy="642.4" r="2" fill="#08f808"/>
<circle cx="424.4" cy="638" r="2" fill="#08f808"/>
<circle cx="429" cy="642" r="2" fill="#08f808"/>
<circle cx="385.6" cy="647" r="2" fill="#08f808"/>
<circle cx="389.6" cy="648" r="2" fill="#08f808"/>
<circle cx="375" cy="653.6" r="2" fill="#08f808"/>
<circle cx="381" cy="654.4" r="2" fill="#08f808"/>
<circle cx="384" cy="658" r="2" fill="#08f808"/>
<circle cx="387.6" cy="659.6" r="2" fill="#08f808"/>
<circle cx="394" cy="663" r="2" fill="#08f808"/>
<circle cx="410" cy="663" r="2" fill="#08f808"/>
<circle cx="346.4" cy="665.6" r="2" fill="#08f808"/>
<circle cx="373.6" cy="665.6" r="2" fill="#08f808"/>
<circle cx="353" cy="670" r="2" fill="#08f808"/>
<circle cx="356" cy="675.6" r="2" fill="#08f808"/>
<circle cx="378.4" cy="676.4" r="2" fill="#08f808"/>
<circle cx="419" cy="688" r="2" fill="#08f808"/>
<circle cx="448.4" cy="627.3" r="2" fill="#08f808"/>
<circle cx="456.8" cy="632" r="2" fill="#08f808"/>
<circle cx="445" cy="637" r="2" fill="#08f808"/>
<circle cx="447.3" cy="637" r="2" fill="#08f808"/>
<circle cx="456.4" cy="637.5" r="2" fill="#08f808"/>
<circle cx="506" cy="648" r="2" fill="#08f808"/>
</svg>
</body></html>
